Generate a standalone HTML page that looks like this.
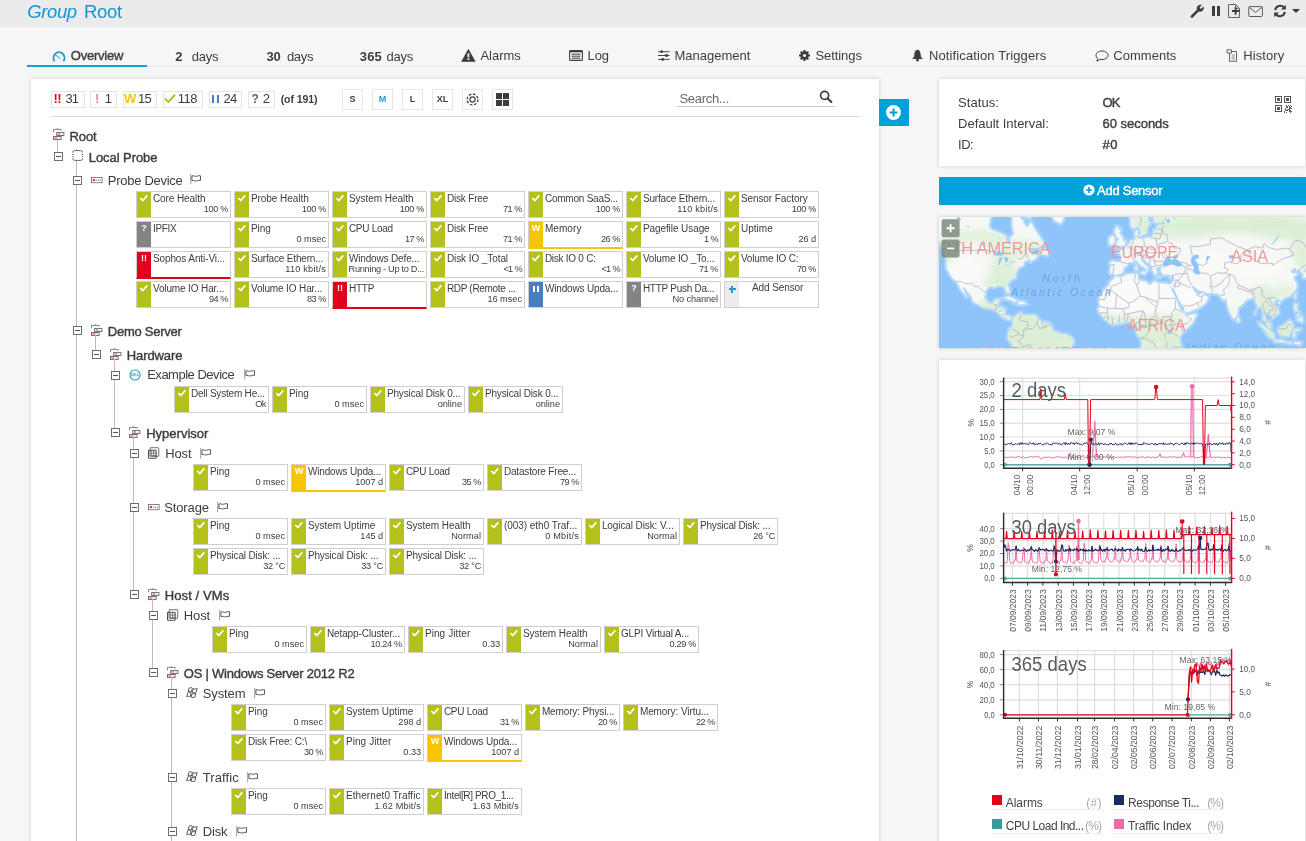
<!DOCTYPE html><html lang="en"><head><meta charset="utf-8"><title>Group Root</title><style>
*{box-sizing:border-box;margin:0;padding:0}
html,body{width:1306px;height:841px;overflow:hidden;background:#f6f6f6;font-family:"Liberation Sans",sans-serif;color:#3d3d3d}
.abs{position:absolute}
#top{position:absolute;left:0;top:0;width:1306px;height:27px;background:#ebebeb}
#title{position:absolute;left:27px;top:-1px;font-size:20px;line-height:24px;color:#1e9bd7;white-space:nowrap;letter-spacing:-0.2px}
#title i{font-style:italic}
.tab{position:absolute;top:47px;height:18px;font-size:13px;line-height:18px;white-space:nowrap;color:#3d3d3d}
.tab b{font-weight:bold}
#tabline{position:absolute;left:27px;top:66px;width:1279px;height:1px;background:#e6e6e6}
#tabsel{position:absolute;left:27px;top:65px;width:120px;height:2px;background:#1e9bd7}
#main{position:absolute;left:31px;top:79px;width:848px;height:780px;background:#fff;box-shadow:0 0 4px rgba(0,0,0,.18)}
.sb{position:absolute;top:91px;height:17px;border:1px solid #e4e4e4;background:#fff;font-size:13px;line-height:15px;white-space:nowrap;color:#3d3d3d}
.zb{position:absolute;top:89px;width:21px;height:21px;border:1px solid #e6e6e6;background:#fff;font-size:9px;font-weight:bold;line-height:19px;text-align:center;color:#3d3d3d}
.tl{position:absolute;font-size:13px;line-height:16px;white-space:nowrap;color:#3d3d3d}
.tl.g{font-weight:bold;letter-spacing:-0.35px}
.tg{position:absolute;width:9px;height:9px;border:1px solid #6e6e6e;background:#fff}
.tg:after{content:"";position:absolute;left:1px;top:3px;width:5px;height:1px;background:#555}
.vl{position:absolute;width:1px;background:#bdbdbd}
.s{position:absolute;width:95px;height:27px;border:1px solid #cfcfcf;background:#fff;overflow:hidden}
.s .c{position:absolute;left:0;top:0;width:14px;height:25px}
.s .n{position:absolute;left:15.9px;top:1px;font-size:10px;line-height:12px;letter-spacing:-0.1px;white-space:nowrap;color:#3d3d3d}
.s .v{position:absolute;right:2px;top:11px;font-size:9.2px;line-height:12px;white-space:nowrap;color:#3d3d3d}
.s.ok .c{background:#b4c11a}
.s.un .c{background:#838383}
.s.er .c{background:#e2001a}
.s.wa .c{background:#f5c500}
.s.pa .c{background:#447fc1}
.s.er{border-bottom:2px solid #e2001a;height:28px}
.s.wa{border-bottom:2px solid #f5c500;height:28px}
.s.ad .c{background:#ececec}
.s svg{position:absolute;left:0;top:0}
.s .m{position:absolute;left:0;top:2px;width:14px;text-align:center;font-size:9px;font-weight:bold;color:#fff;line-height:9px}
</style></head><body>
<div id="top"></div><div class="abs" style="white-space:nowrap;left:27.2px;top:-1.21px;font-size:18.5px;line-height:26px;letter-spacing:-0.364px;font-style:italic;color:#1196d5;">Group</div><div class="abs" style="white-space:nowrap;left:83.9px;top:-1.21px;font-size:18.5px;line-height:26px;letter-spacing:-0.245px;color:#1196d5;">Root</div>
<div id="tabline"></div><div id="tabsel"></div>
<svg class="abs" style="left:52px;top:49.5px" width="14" height="12" viewBox="0 0 14 12"><path d="M2.6 11.1 A5.5 5.5 0 1 1 11.4 11.1" fill="none" stroke="#1e9bd7" stroke-width="1.9"/><path d="M3.2 4.6 L8.4 8.6" stroke="#1e9bd7" stroke-width="1" fill="none"/></svg>
<div class="abs" style="white-space:nowrap;left:70.8px;top:46.80px;font-size:13px;line-height:18px;letter-spacing:-0.235px;-webkit-text-stroke:0.4px #3d3d3d;">Overview</div>
<div class="abs" style="white-space:nowrap;left:175.2px;top:47.80px;font-size:13px;line-height:18px;letter-spacing:-0.63px;font-weight:bold;">2</div>
<div class="abs" style="white-space:nowrap;left:191.8px;top:47.80px;font-size:13px;line-height:18px;letter-spacing:-0.29px;">days</div>
<div class="abs" style="white-space:nowrap;left:266.4px;top:47.80px;font-size:13px;line-height:18px;letter-spacing:-0.23px;font-weight:bold;">30</div>
<div class="abs" style="white-space:nowrap;left:286.9px;top:47.80px;font-size:13px;line-height:18px;letter-spacing:-0.29px;">days</div>
<div class="abs" style="white-space:nowrap;left:359.8px;top:47.80px;font-size:13px;line-height:18px;letter-spacing:0.103px;font-weight:bold;">365</div>
<div class="abs" style="white-space:nowrap;left:386.4px;top:47.80px;font-size:13px;line-height:18px;letter-spacing:-0.215px;">days</div>
<svg class="abs" style="left:461px;top:48.5px" width="15" height="13" viewBox="0 0 15 13"><path d="M7.4 0.3 L14.2 12.4 H0.6 Z" fill="#3d3d3d" stroke="#3d3d3d" stroke-width="0.6" stroke-linejoin="round"/><rect x="6.5" y="4.2" width="1.8" height="4.2" fill="#f6f6f6"/><rect x="6.5" y="9.3" width="1.8" height="1.7" fill="#f6f6f6"/></svg>
<div class="abs" style="white-space:nowrap;left:480.4px;top:46.80px;font-size:13px;line-height:18px;letter-spacing:-0.009px;">Alarms</div>
<svg class="abs" style="left:569px;top:50px" width="14" height="11" viewBox="0 0 14 11"><rect x="0.6" y="0.6" width="12.8" height="9.8" rx="1" fill="none" stroke="#3d3d3d" stroke-width="1.1"/><rect x="0.6" y="0.3" width="12.8" height="2" fill="#3d3d3d"/><path d="M2.6 4.2H11.4M2.6 6.2H11.4M2.6 8.2H11.4" stroke="#3d3d3d" stroke-width="1"/></svg>
<div class="abs" style="white-space:nowrap;left:587.6px;top:46.80px;font-size:13px;line-height:18px;letter-spacing:-0.164px;">Log</div>
<svg class="abs" style="left:657.6px;top:50px" width="12" height="11" viewBox="0 0 12 11"><path d="M0 1.7H11.6M0 5.5H11.6M0 9.4H11.6" stroke="#4a4a4a" stroke-width="1"/><rect x="2.6" y="0.3" width="2.2" height="2.8" rx="0.6" fill="#3d3d3d"/><rect x="7.4" y="4.1" width="2.2" height="2.8" rx="0.6" fill="#3d3d3d"/><rect x="3.6" y="8" width="2.2" height="2.8" rx="0.6" fill="#3d3d3d"/></svg>
<div class="abs" style="white-space:nowrap;left:674.4px;top:46.80px;font-size:13px;line-height:18px;letter-spacing:0.012px;">Management</div>
<svg class="abs" style="left:799px;top:50px" width="11" height="11" viewBox="0 0 12 12"><circle cx="6" cy="6" r="3.3" fill="none" stroke="#3d3d3d" stroke-width="2.6"/><g stroke="#3d3d3d" stroke-width="2.2"><path d="M6 0V12M0 6H12M1.8 1.8L10.2 10.2M10.2 1.8L1.8 10.2"/></g><circle cx="6" cy="6" r="1.7" fill="#f6f6f6"/></svg>
<div class="abs" style="white-space:nowrap;left:815.4px;top:46.80px;font-size:13px;line-height:18px;letter-spacing:-0.059px;">Settings</div>
<svg class="abs" style="left:911px;top:49px" width="13" height="13" viewBox="0 0 13 13"><path d="M6.5 0.8 C3.6 1.4 3.4 4 3.3 6.2 C3.2 8 2.2 9 1 10 H12 C10.8 9 9.8 8 9.7 6.2 C9.6 4 9.4 1.4 6.5 0.8Z" fill="#3d3d3d"/><circle cx="6.5" cy="11.2" r="1.4" fill="#3d3d3d"/></svg>
<div class="abs" style="white-space:nowrap;left:928.9px;top:46.80px;font-size:13px;line-height:18px;letter-spacing:0.124px;">Notification Triggers</div>
<svg class="abs" style="left:1095px;top:50px" width="14" height="12" viewBox="0 0 14 12"><path d="M7 1 C10.4 1 13 2.9 13 5.3 C13 7.7 10.4 9.6 7 9.6 C6.3 9.6 5.7 9.5 5.1 9.4 C4 10.4 2.8 10.9 1.6 11 C2.4 10.3 2.8 9.4 2.9 8.6 C1.7 7.8 1 6.6 1 5.3 C1 2.9 3.6 1 7 1Z" fill="none" stroke="#3d3d3d" stroke-width="1"/></svg>
<div class="abs" style="white-space:nowrap;left:1113.3px;top:46.80px;font-size:13px;line-height:18px;letter-spacing:0.019px;">Comments</div>
<svg class="abs" style="left:1226px;top:49px" width="12" height="13" viewBox="0 0 12 13"><path d="M3.5 2.5 H10.5 V12.3 H3.5 Z" fill="none" stroke="#555" stroke-width="0.9"/><path d="M1 0.8 H5.5 V4 H1 Z" fill="#f6f6f6" stroke="#555" stroke-width="0.9"/><path d="M5.5 6H9M5.5 8H9M5.5 10H9" stroke="#777" stroke-width="0.8"/></svg>
<div class="abs" style="white-space:nowrap;left:1243.3px;top:46.80px;font-size:13px;line-height:18px;letter-spacing:0.079px;">History</div>
<svg class="abs" style="left:1190px;top:4px" width="15" height="14" viewBox="0 0 15 14"><path d="M1 11.6 L6.9 5.7 A3.7 3.7 0 0 1 11.9 1.1 L9.5 3.5 L10.9 4.9 L13.4 2.5 A3.7 3.7 0 0 1 8.7 7.5 L2.9 13.4 A1.3 1.3 0 0 1 1 11.6Z" fill="#3d3d3d"/></svg>
<div class="abs" style="left:1212.1px;top:6px;width:2.5px;height:9.5px;background:#3d3d3d"></div><div class="abs" style="left:1217.1px;top:6px;width:2.6px;height:9.5px;background:#3d3d3d"></div>
<svg class="abs" style="left:1228px;top:4px" width="13" height="14" viewBox="0 0 13 14"><path d="M0.5 0.5 H7.6 L11.5 4.4 V13.5 H0.5 Z" fill="none" stroke="#555" stroke-width="0.9"/><path d="M7.6 0.5 V4.4 H11.5" fill="none" stroke="#555" stroke-width="0.8"/><path d="M7.6 3.2 V10.8 M4 7 H11.2" stroke="#3d3d3d" stroke-width="1.9"/></svg>
<svg class="abs" style="left:1248px;top:6px" width="15" height="11" viewBox="0 0 15 11"><rect x="0.8" y="0.6" width="13.6" height="9.9" rx="0.8" fill="none" stroke="#555" stroke-width="0.95"/><path d="M1 1.2 L7.6 6.4 L14.2 1.2" fill="none" stroke="#555" stroke-width="0.95"/></svg>
<svg class="abs" style="left:1273px;top:4px" width="14" height="14" viewBox="0 0 14 14"><path d="M2.2 6.2 A5 5 0 0 1 11 3.6" fill="none" stroke="#3d3d3d" stroke-width="2"/><path d="M12.8 0.8 V5.6 H8 Z" fill="#3d3d3d"/><path d="M11.8 7.8 A5 5 0 0 1 3 10.4" fill="none" stroke="#3d3d3d" stroke-width="2"/><path d="M1.2 13.2 V8.4 H6 Z" fill="#3d3d3d"/></svg>
<div class="abs" style="left:1292.3px;top:9px;width:0;height:0;border-left:4.2px solid transparent;border-right:4.2px solid transparent;border-top:4.4px solid #3d3d3d"></div>
<div id="main"></div>
<div class="sb" style="left:51px;width:34px"></div>
<div class="abs" style="white-space:nowrap;left:53.6px;top:89.70px;font-size:13px;line-height:18px;letter-spacing:-0.73px;font-weight:bold;color:#e2001a;">!!</div>
<div class="abs" style="white-space:nowrap;left:65.6px;top:89.70px;font-size:13px;line-height:18px;letter-spacing:-1.03px;">31</div>
<div class="sb" style="left:90px;width:27px"></div>
<div class="abs" style="white-space:nowrap;left:94.9px;top:89.70px;font-size:13px;line-height:18px;font-weight:bold;color:#f08a8a;">!</div>
<div class="abs" style="white-space:nowrap;left:104.8px;top:89.70px;font-size:13px;line-height:18px;">1</div>
<div class="sb" style="left:123px;width:34px"></div>
<div class="abs" style="white-space:nowrap;left:123.9px;top:89.70px;font-size:13px;line-height:18px;letter-spacing:-1.27px;font-weight:bold;color:#f5c500;">W</div>
<div class="abs" style="white-space:nowrap;left:137.9px;top:89.70px;font-size:13px;line-height:18px;letter-spacing:-0.73px;">15</div>
<div class="sb" style="left:163px;width:40px"></div>
<svg class="abs" style="left:164px;top:93px" width="12" height="11" viewBox="0 0 12 11"><path d="M1 5.6 L4.3 9 L11 1.6" fill="none" stroke="#a9b915" stroke-width="1.8"/></svg>
<div class="abs" style="white-space:nowrap;left:177.8px;top:89.70px;font-size:13px;line-height:18px;letter-spacing:-0.576px;">118</div>
<div class="sb" style="left:209px;width:33px"></div>
<div class="abs" style="left:212px;top:95px;width:2px;height:8px;background:#447fc1"></div><div class="abs" style="left:217px;top:95px;width:2px;height:8px;background:#447fc1"></div>
<div class="abs" style="white-space:nowrap;left:223.5px;top:89.70px;font-size:13px;line-height:18px;letter-spacing:-0.73px;">24</div>
<div class="sb" style="left:248px;width:27px"></div>
<div class="abs" style="white-space:nowrap;left:251.4px;top:90.54px;font-size:12px;line-height:17px;font-weight:bold;color:#666;">?</div>
<div class="abs" style="white-space:nowrap;left:262.7px;top:89.70px;font-size:13px;line-height:18px;">2</div>
<div class="abs" style="white-space:nowrap;left:280.7px;top:91.56px;font-size:10.5px;line-height:15px;letter-spacing:-0.067px;font-weight:bold;font-weight:bold;">(of 191)</div>
<div class="zb" style="left:342px;color:#3d3d3d">S</div>
<div class="zb" style="left:372px;color:#1e9bd7">M</div>
<div class="zb" style="left:402px;color:#3d3d3d">L</div>
<div class="zb" style="left:432px;color:#3d3d3d">XL</div>
<div class="zb" style="left:462px"></div><div class="zb" style="left:492px"></div>
<svg class="abs" style="left:466px;top:93px" width="13" height="13" viewBox="0 0 13 13"><circle cx="6.5" cy="6.5" r="5.4" fill="none" stroke="#3d3d3d" stroke-width="1.3" stroke-dasharray="2.6 1.6"/><circle cx="6.5" cy="6.5" r="2.6" fill="none" stroke="#3d3d3d" stroke-width="1.1"/></svg>
<div class="abs" style="left:496px;top:93px;width:6px;height:6px;background:#3d3d3d"></div><div class="abs" style="left:503px;top:93px;width:6px;height:6px;background:#3d3d3d"></div><div class="abs" style="left:496px;top:100px;width:6px;height:6px;background:#3d3d3d"></div><div class="abs" style="left:503px;top:100px;width:6px;height:6px;background:#3d3d3d"></div>
<div class="abs" style="white-space:nowrap;left:679.4px;top:89.70px;font-size:13px;line-height:18px;letter-spacing:-0.27px;color:#6a6a6a;">Search...</div>
<div class="abs" style="left:677px;top:106px;width:158px;height:1px;background:#c9c9c9"></div>
<svg class="abs" style="left:819px;top:89.5px" width="14" height="13" viewBox="0 0 14 13"><circle cx="5.6" cy="5.4" r="4" fill="none" stroke="#3d3d3d" stroke-width="1.7"/><path d="M8.6 8.4 L12.4 12" stroke="#3d3d3d" stroke-width="2" stroke-linecap="round"/></svg>
<div class="abs" style="left:51px;top:116px;width:808px;height:1px;background:#d9d9d9"></div>
<div class="abs" style="left:879px;top:99px;width:30px;height:27px;background:#00a0d8"></div>
<svg class="abs" style="left:885px;top:104px" width="17" height="17" viewBox="0 0 17 17"><circle cx="8.5" cy="8.5" r="7.5" fill="#fff"/><path d="M8.5 4.6V12.4M4.6 8.5H12.4" stroke="#00a0d8" stroke-width="2"/></svg>
<svg class="abs" style="left:53px;top:128px" width="12" height="13" viewBox="0 0 12 13"><path d="M0.5 4.2 V1.4 H8.2 V2.7 M4.6 0.2 V1.4" fill="none" stroke="#777" stroke-width="0.9"/><rect x="3.7" y="4.4" width="7.2" height="3.1" fill="#fff" stroke="#666" stroke-width="0.9"/><rect x="4.8" y="5.2" width="2.2" height="1.4" fill="#f05a9a"/><rect x="8.2" y="5.6" width="1.4" height="0.8" fill="#bbb"/><rect x="0.5" y="8.5" width="7.6" height="3.1" fill="#fff" stroke="#666" stroke-width="0.9"/><rect x="1.4" y="9.3" width="3" height="1.5" fill="#f06aa6"/><rect x="5.4" y="9.7" width="1.6" height="0.8" fill="#bbb"/></svg>
<svg class="abs" style="left:72px;top:149px" width="12" height="13" viewBox="0 0 12 13"><path d="M0.9 3.8 V3.3 Q0.9 1.6 2.6 1.6 H8.8 Q10.5 1.6 10.5 3.3 V3.8 M0.9 9.2 V9.7 Q0.9 11.4 2.6 11.4 H8.8 Q10.5 11.4 10.5 9.7 V9.2" fill="none" stroke="#666" stroke-width="0.95"/><path d="M0.9 5 V6 M0.9 7.2 V8.2 M10.5 5 V6 M10.5 7.2 V8.2" stroke="#555" stroke-width="1.3"/><path d="M4.5 0.3V1.6" stroke="#777" stroke-width="0.8"/></svg>
<svg class="abs" style="left:91px;top:176.5px" width="12" height="7" viewBox="0 0 12 7"><rect x="0.5" y="0.5" width="10.6" height="5.2" fill="#fff" stroke="#777" stroke-width="0.9"/><rect x="1.8" y="2.1" width="2.3" height="2" fill="#ee1c78"/><rect x="5.2" y="2.6" width="1.1" height="1.3" fill="#888"/><rect x="7" y="2.6" width="1.1" height="1.3" fill="#888"/><rect x="8.8" y="2.6" width="1.1" height="1.3" fill="#888"/></svg>
<svg class="abs" style="left:190px;top:173.5px" width="12" height="11" viewBox="0 0 12 11"><path d="M0.7 0 V10.4" stroke="#9a9ab0" stroke-width="1"/><path d="M1.9 1.9 C3.6 1.2 5 2.9 6.8 2.2 C8.2 1.7 9.2 1.5 10.5 1.8 V6.4 C9.2 6.1 8.2 6.3 6.8 6.8 C5 7.5 3.6 5.8 1.9 6.5 Z" fill="none" stroke="#505050" stroke-width="0.95"/></svg>
<svg class="abs" style="left:91px;top:323.5px" width="12" height="13" viewBox="0 0 12 13"><path d="M0.5 4.2 V1.4 H8.2 V2.7 M4.6 0.2 V1.4" fill="none" stroke="#777" stroke-width="0.9"/><rect x="3.7" y="4.4" width="7.2" height="3.1" fill="#fff" stroke="#666" stroke-width="0.9"/><rect x="4.8" y="5.2" width="2.2" height="1.4" fill="#f05a9a"/><rect x="8.2" y="5.6" width="1.4" height="0.8" fill="#bbb"/><rect x="0.5" y="8.5" width="7.6" height="3.1" fill="#fff" stroke="#666" stroke-width="0.9"/><rect x="1.4" y="9.3" width="3" height="1.5" fill="#f06aa6"/><rect x="5.4" y="9.7" width="1.6" height="0.8" fill="#bbb"/></svg>
<svg class="abs" style="left:110px;top:347.5px" width="12" height="13" viewBox="0 0 12 13"><path d="M0.5 4.2 V1.4 H8.2 V2.7 M4.6 0.2 V1.4" fill="none" stroke="#777" stroke-width="0.9"/><rect x="3.7" y="4.4" width="7.2" height="3.1" fill="#fff" stroke="#666" stroke-width="0.9"/><rect x="4.8" y="5.2" width="2.2" height="1.4" fill="#f05a9a"/><rect x="8.2" y="5.6" width="1.4" height="0.8" fill="#bbb"/><rect x="0.5" y="8.5" width="7.6" height="3.1" fill="#fff" stroke="#666" stroke-width="0.9"/><rect x="1.4" y="9.3" width="3" height="1.5" fill="#f06aa6"/><rect x="5.4" y="9.7" width="1.6" height="0.8" fill="#bbb"/></svg>
<svg class="abs" style="left:128.5px;top:368.5px" width="12" height="12" viewBox="0 0 12 12"><circle cx="6" cy="6" r="5" fill="#fff" stroke="#1e9bd7" stroke-width="1.1"/><text x="6" y="7.3" font-family="Liberation Sans, sans-serif" font-size="3.6" font-weight="bold" fill="#1e9bd7" text-anchor="middle" textLength="7.4" lengthAdjust="spacingAndGlyphs">DELL</text></svg>
<svg class="abs" style="left:243.5px;top:369px" width="12" height="11" viewBox="0 0 12 11"><path d="M0.7 0 V10.4" stroke="#9a9ab0" stroke-width="1"/><path d="M1.9 1.9 C3.6 1.2 5 2.9 6.8 2.2 C8.2 1.7 9.2 1.5 10.5 1.8 V6.4 C9.2 6.1 8.2 6.3 6.8 6.8 C5 7.5 3.6 5.8 1.9 6.5 Z" fill="none" stroke="#505050" stroke-width="0.95"/></svg>
<svg class="abs" style="left:129px;top:425.5px" width="12" height="13" viewBox="0 0 12 13"><path d="M0.5 4.2 V1.4 H8.2 V2.7 M4.6 0.2 V1.4" fill="none" stroke="#777" stroke-width="0.9"/><rect x="3.7" y="4.4" width="7.2" height="3.1" fill="#fff" stroke="#666" stroke-width="0.9"/><rect x="4.8" y="5.2" width="2.2" height="1.4" fill="#f05a9a"/><rect x="8.2" y="5.6" width="1.4" height="0.8" fill="#bbb"/><rect x="0.5" y="8.5" width="7.6" height="3.1" fill="#fff" stroke="#666" stroke-width="0.9"/><rect x="1.4" y="9.3" width="3" height="1.5" fill="#f06aa6"/><rect x="5.4" y="9.7" width="1.6" height="0.8" fill="#bbb"/></svg>
<svg class="abs" style="left:148px;top:446.8px" width="12" height="12" viewBox="0 0 12 12"><rect x="2.1" y="0.7" width="8.6" height="8.6" rx="1" fill="none" stroke="#8e8e8e" stroke-width="1.3"/><rect x="0.55" y="3.3" width="7.6" height="7.9" rx="0.8" fill="none" stroke="#4a4a4a" stroke-width="1.1"/><path d="M3.2 3.3 V8.6 H8.15 M5.6 3.3 V8.6 M3.2 6 H8.15" fill="none" stroke="#5a5a5a" stroke-width="0.8"/></svg>
<svg class="abs" style="left:200px;top:447.5px" width="12" height="11" viewBox="0 0 12 11"><path d="M0.7 0 V10.4" stroke="#9a9ab0" stroke-width="1"/><path d="M1.9 1.9 C3.6 1.2 5 2.9 6.8 2.2 C8.2 1.7 9.2 1.5 10.5 1.8 V6.4 C9.2 6.1 8.2 6.3 6.8 6.8 C5 7.5 3.6 5.8 1.9 6.5 Z" fill="none" stroke="#505050" stroke-width="0.95"/></svg>
<svg class="abs" style="left:148px;top:503.5px" width="12" height="7" viewBox="0 0 12 7"><rect x="0.5" y="0.5" width="10.6" height="5.2" fill="#fff" stroke="#777" stroke-width="0.9"/><rect x="1.8" y="2.1" width="2.3" height="2" fill="#ee1c78"/><rect x="5.2" y="2.6" width="1.1" height="1.3" fill="#888"/><rect x="7" y="2.6" width="1.1" height="1.3" fill="#888"/><rect x="8.8" y="2.6" width="1.1" height="1.3" fill="#888"/></svg>
<svg class="abs" style="left:217px;top:501.5px" width="12" height="11" viewBox="0 0 12 11"><path d="M0.7 0 V10.4" stroke="#9a9ab0" stroke-width="1"/><path d="M1.9 1.9 C3.6 1.2 5 2.9 6.8 2.2 C8.2 1.7 9.2 1.5 10.5 1.8 V6.4 C9.2 6.1 8.2 6.3 6.8 6.8 C5 7.5 3.6 5.8 1.9 6.5 Z" fill="none" stroke="#505050" stroke-width="0.95"/></svg>
<svg class="abs" style="left:148px;top:587.5px" width="12" height="13" viewBox="0 0 12 13"><path d="M0.5 4.2 V1.4 H8.2 V2.7 M4.6 0.2 V1.4" fill="none" stroke="#777" stroke-width="0.9"/><rect x="3.7" y="4.4" width="7.2" height="3.1" fill="#fff" stroke="#666" stroke-width="0.9"/><rect x="4.8" y="5.2" width="2.2" height="1.4" fill="#f05a9a"/><rect x="8.2" y="5.6" width="1.4" height="0.8" fill="#bbb"/><rect x="0.5" y="8.5" width="7.6" height="3.1" fill="#fff" stroke="#666" stroke-width="0.9"/><rect x="1.4" y="9.3" width="3" height="1.5" fill="#f06aa6"/><rect x="5.4" y="9.7" width="1.6" height="0.8" fill="#bbb"/></svg>
<svg class="abs" style="left:167px;top:608.8px" width="12" height="12" viewBox="0 0 12 12"><rect x="2.1" y="0.7" width="8.6" height="8.6" rx="1" fill="none" stroke="#8e8e8e" stroke-width="1.3"/><rect x="0.55" y="3.3" width="7.6" height="7.9" rx="0.8" fill="none" stroke="#4a4a4a" stroke-width="1.1"/><path d="M3.2 3.3 V8.6 H8.15 M5.6 3.3 V8.6 M3.2 6 H8.15" fill="none" stroke="#5a5a5a" stroke-width="0.8"/></svg>
<svg class="abs" style="left:219px;top:609.5px" width="12" height="11" viewBox="0 0 12 11"><path d="M0.7 0 V10.4" stroke="#9a9ab0" stroke-width="1"/><path d="M1.9 1.9 C3.6 1.2 5 2.9 6.8 2.2 C8.2 1.7 9.2 1.5 10.5 1.8 V6.4 C9.2 6.1 8.2 6.3 6.8 6.8 C5 7.5 3.6 5.8 1.9 6.5 Z" fill="none" stroke="#505050" stroke-width="0.95"/></svg>
<svg class="abs" style="left:167px;top:665.5px" width="12" height="13" viewBox="0 0 12 13"><path d="M0.5 4.2 V1.4 H8.2 V2.7 M4.6 0.2 V1.4" fill="none" stroke="#777" stroke-width="0.9"/><rect x="3.7" y="4.4" width="7.2" height="3.1" fill="#fff" stroke="#666" stroke-width="0.9"/><rect x="4.8" y="5.2" width="2.2" height="1.4" fill="#f05a9a"/><rect x="8.2" y="5.6" width="1.4" height="0.8" fill="#bbb"/><rect x="0.5" y="8.5" width="7.6" height="3.1" fill="#fff" stroke="#666" stroke-width="0.9"/><rect x="1.4" y="9.3" width="3" height="1.5" fill="#f06aa6"/><rect x="5.4" y="9.7" width="1.6" height="0.8" fill="#bbb"/></svg>
<svg class="abs" style="left:185.5px;top:686.5px" width="13" height="12" viewBox="0 0 13 12"><g fill="none" stroke="#5a5a5a" stroke-width="1"><path d="M3 1.2 C4.2 0.4 5.4 0.6 6.4 1.2 L5.4 5 C4.4 4.4 3.2 4.2 2 5 Z"/><path d="M7.4 1.6 C8.6 2.2 9.8 2.2 11.2 1.4 L10.2 5.2 C8.8 6 7.6 5.9 6.4 5.3 Z"/><path d="M1.7 6 C2.9 5.2 4.1 5.4 5.1 6 L4.1 9.8 C3.1 9.2 1.9 9 0.7 9.8 Z"/><path d="M6.1 6.4 C7.3 7 8.5 7 9.9 6.2 L8.9 10 C7.5 10.8 6.3 10.7 5.1 10.1 Z"/></g></svg>
<svg class="abs" style="left:253.5px;top:687.5px" width="12" height="11" viewBox="0 0 12 11"><path d="M0.7 0 V10.4" stroke="#9a9ab0" stroke-width="1"/><path d="M1.9 1.9 C3.6 1.2 5 2.9 6.8 2.2 C8.2 1.7 9.2 1.5 10.5 1.8 V6.4 C9.2 6.1 8.2 6.3 6.8 6.8 C5 7.5 3.6 5.8 1.9 6.5 Z" fill="none" stroke="#505050" stroke-width="0.95"/></svg>
<svg class="abs" style="left:185.5px;top:770.5px" width="13" height="12" viewBox="0 0 13 12"><g fill="none" stroke="#5a5a5a" stroke-width="1"><path d="M3 1.2 C4.2 0.4 5.4 0.6 6.4 1.2 L5.4 5 C4.4 4.4 3.2 4.2 2 5 Z"/><path d="M7.4 1.6 C8.6 2.2 9.8 2.2 11.2 1.4 L10.2 5.2 C8.8 6 7.6 5.9 6.4 5.3 Z"/><path d="M1.7 6 C2.9 5.2 4.1 5.4 5.1 6 L4.1 9.8 C3.1 9.2 1.9 9 0.7 9.8 Z"/><path d="M6.1 6.4 C7.3 7 8.5 7 9.9 6.2 L8.9 10 C7.5 10.8 6.3 10.7 5.1 10.1 Z"/></g></svg>
<svg class="abs" style="left:247px;top:771.5px" width="12" height="11" viewBox="0 0 12 11"><path d="M0.7 0 V10.4" stroke="#9a9ab0" stroke-width="1"/><path d="M1.9 1.9 C3.6 1.2 5 2.9 6.8 2.2 C8.2 1.7 9.2 1.5 10.5 1.8 V6.4 C9.2 6.1 8.2 6.3 6.8 6.8 C5 7.5 3.6 5.8 1.9 6.5 Z" fill="none" stroke="#505050" stroke-width="0.95"/></svg>
<svg class="abs" style="left:185.5px;top:824.5px" width="13" height="12" viewBox="0 0 13 12"><g fill="none" stroke="#5a5a5a" stroke-width="1"><path d="M3 1.2 C4.2 0.4 5.4 0.6 6.4 1.2 L5.4 5 C4.4 4.4 3.2 4.2 2 5 Z"/><path d="M7.4 1.6 C8.6 2.2 9.8 2.2 11.2 1.4 L10.2 5.2 C8.8 6 7.6 5.9 6.4 5.3 Z"/><path d="M1.7 6 C2.9 5.2 4.1 5.4 5.1 6 L4.1 9.8 C3.1 9.2 1.9 9 0.7 9.8 Z"/><path d="M6.1 6.4 C7.3 7 8.5 7 9.9 6.2 L8.9 10 C7.5 10.8 6.3 10.7 5.1 10.1 Z"/></g></svg>
<svg class="abs" style="left:235.5px;top:825.5px" width="12" height="11" viewBox="0 0 12 11"><path d="M0.7 0 V10.4" stroke="#9a9ab0" stroke-width="1"/><path d="M1.9 1.9 C3.6 1.2 5 2.9 6.8 2.2 C8.2 1.7 9.2 1.5 10.5 1.8 V6.4 C9.2 6.1 8.2 6.3 6.8 6.8 C5 7.5 3.6 5.8 1.9 6.5 Z" fill="none" stroke="#505050" stroke-width="0.95"/></svg>
<div class="vl" style="left:57px;top:140px;height:13px"></div>
<div class="vl" style="left:76px;top:161px;height:739px"></div>
<div class="vl" style="left:95px;top:335px;height:16px"></div>
<div class="vl" style="left:114px;top:359px;height:70px"></div>
<div class="vl" style="left:133px;top:437px;height:154px"></div>
<div class="vl" style="left:152px;top:599px;height:70px"></div>
<div class="vl" style="left:171px;top:677px;height:223px"></div>
<div class="abs" style="white-space:nowrap;left:69.6px;top:128.20px;font-size:13px;line-height:18px;letter-spacing:-0.165px;-webkit-text-stroke:0.4px #3d3d3d;">Root</div>
<div class="tg" style="left:54px;top:152px"></div>
<div class="abs" style="white-space:nowrap;left:88.8px;top:149.20px;font-size:13px;line-height:18px;letter-spacing:-0.071px;-webkit-text-stroke:0.4px #3d3d3d;">Local Probe</div>
<div class="tg" style="left:73px;top:176px"></div>
<div class="abs" style="white-space:nowrap;left:107.8px;top:172.20px;font-size:13px;line-height:18px;letter-spacing:-0.279px;">Probe Device</div>
<div class="s ok" style="left:136px;top:191px"><div class="c"></div><svg width="14" height="12" viewBox="0 0 14 12"><path d="M3.3 6 L5.8 8.6 L10.3 3.4" fill="none" stroke="#fff" stroke-width="1.7"/></svg><div class="n" style="letter-spacing:-0.08px">Core Health</div><div class="v" style="letter-spacing:-0.38px">100 %</div></div>
<div class="s ok" style="left:234px;top:191px"><div class="c"></div><svg width="14" height="12" viewBox="0 0 14 12"><path d="M3.3 6 L5.8 8.6 L10.3 3.4" fill="none" stroke="#fff" stroke-width="1.7"/></svg><div class="n" style="letter-spacing:-0.04px">Probe Health</div><div class="v" style="letter-spacing:-0.38px">100 %</div></div>
<div class="s ok" style="left:332px;top:191px"><div class="c"></div><svg width="14" height="12" viewBox="0 0 14 12"><path d="M3.3 6 L5.8 8.6 L10.3 3.4" fill="none" stroke="#fff" stroke-width="1.7"/></svg><div class="n" style="letter-spacing:-0.03px">System Health</div><div class="v" style="letter-spacing:-0.38px">100 %</div></div>
<div class="s ok" style="left:430px;top:191px"><div class="c"></div><svg width="14" height="12" viewBox="0 0 14 12"><path d="M3.3 6 L5.8 8.6 L10.3 3.4" fill="none" stroke="#fff" stroke-width="1.7"/></svg><div class="n" style="letter-spacing:-0.18px">Disk Free</div><div class="v" style="letter-spacing:-0.47px">71 %</div></div>
<div class="s ok" style="left:528px;top:191px"><div class="c"></div><svg width="14" height="12" viewBox="0 0 14 12"><path d="M3.3 6 L5.8 8.6 L10.3 3.4" fill="none" stroke="#fff" stroke-width="1.7"/></svg><div class="n" style="letter-spacing:-0.23px">Common SaaS...</div><div class="v" style="letter-spacing:-0.38px">100 %</div></div>
<div class="s ok" style="left:626px;top:191px"><div class="c"></div><svg width="14" height="12" viewBox="0 0 14 12"><path d="M3.3 6 L5.8 8.6 L10.3 3.4" fill="none" stroke="#fff" stroke-width="1.7"/></svg><div class="n" style="letter-spacing:-0.17px">Surface Ethern...</div><div class="v" style="letter-spacing:0.21px">110 kbit/s</div></div>
<div class="s ok" style="left:724px;top:191px"><div class="c"></div><svg width="14" height="12" viewBox="0 0 14 12"><path d="M3.3 6 L5.8 8.6 L10.3 3.4" fill="none" stroke="#fff" stroke-width="1.7"/></svg><div class="n" style="letter-spacing:-0.08px">Sensor Factory</div><div class="v" style="letter-spacing:-0.38px">100 %</div></div>
<div class="s un" style="left:136px;top:221px"><div class="c"></div><div class="m">?</div><div class="n" style="letter-spacing:-0.29px">IPFIX</div><div class="v" style="letter-spacing:0px"></div></div>
<div class="s ok" style="left:234px;top:221px"><div class="c"></div><svg width="14" height="12" viewBox="0 0 14 12"><path d="M3.3 6 L5.8 8.6 L10.3 3.4" fill="none" stroke="#fff" stroke-width="1.7"/></svg><div class="n" style="letter-spacing:-0.04px">Ping</div><div class="v" style="letter-spacing:-0.02px">0 msec</div></div>
<div class="s ok" style="left:332px;top:221px"><div class="c"></div><svg width="14" height="12" viewBox="0 0 14 12"><path d="M3.3 6 L5.8 8.6 L10.3 3.4" fill="none" stroke="#fff" stroke-width="1.7"/></svg><div class="n" style="letter-spacing:-0.28px">CPU Load</div><div class="v" style="letter-spacing:-0.47px">17 %</div></div>
<div class="s ok" style="left:430px;top:221px"><div class="c"></div><svg width="14" height="12" viewBox="0 0 14 12"><path d="M3.3 6 L5.8 8.6 L10.3 3.4" fill="none" stroke="#fff" stroke-width="1.7"/></svg><div class="n" style="letter-spacing:-0.18px">Disk Free</div><div class="v" style="letter-spacing:-0.47px">71 %</div></div>
<div class="s wa" style="left:528px;top:221px"><div class="c"></div><div class="m">W</div><div class="n" style="letter-spacing:0.08px">Memory</div><div class="v" style="letter-spacing:-0.47px">26 %</div></div>
<div class="s ok" style="left:626px;top:221px"><div class="c"></div><svg width="14" height="12" viewBox="0 0 14 12"><path d="M3.3 6 L5.8 8.6 L10.3 3.4" fill="none" stroke="#fff" stroke-width="1.7"/></svg><div class="n" style="letter-spacing:-0.08px">Pagefile Usage</div><div class="v" style="letter-spacing:-0.62px">1 %</div></div>
<div class="s ok" style="left:724px;top:221px"><div class="c"></div><svg width="14" height="12" viewBox="0 0 14 12"><path d="M3.3 6 L5.8 8.6 L10.3 3.4" fill="none" stroke="#fff" stroke-width="1.7"/></svg><div class="n" style="letter-spacing:0.03px">Uptime</div><div class="v" style="letter-spacing:-0.09px">26 d</div></div>
<div class="s er" style="left:136px;top:251px"><div class="c"></div><div class="m">!!</div><div class="n" style="letter-spacing:-0.1px">Sophos Anti-Vi...</div><div class="v" style="letter-spacing:0px"></div></div>
<div class="s ok" style="left:234px;top:251px"><div class="c"></div><svg width="14" height="12" viewBox="0 0 14 12"><path d="M3.3 6 L5.8 8.6 L10.3 3.4" fill="none" stroke="#fff" stroke-width="1.7"/></svg><div class="n" style="letter-spacing:-0.17px">Surface Ethern...</div><div class="v" style="letter-spacing:0.21px">110 kbit/s</div></div>
<div class="s ok" style="left:332px;top:251px"><div class="c"></div><svg width="14" height="12" viewBox="0 0 14 12"><path d="M3.3 6 L5.8 8.6 L10.3 3.4" fill="none" stroke="#fff" stroke-width="1.7"/></svg><div class="n" style="letter-spacing:-0.15px">Windows Defe...</div><div class="v" style="letter-spacing:-0.29px">Running - Up to D...</div></div>
<div class="s ok" style="left:430px;top:251px"><div class="c"></div><svg width="14" height="12" viewBox="0 0 14 12"><path d="M3.3 6 L5.8 8.6 L10.3 3.4" fill="none" stroke="#fff" stroke-width="1.7"/></svg><div class="n" style="letter-spacing:-0.08px">Disk IO _Total</div><div class="v" style="letter-spacing:-0.65px">&lt;1 %</div></div>
<div class="s ok" style="left:528px;top:251px"><div class="c"></div><svg width="14" height="12" viewBox="0 0 14 12"><path d="M3.3 6 L5.8 8.6 L10.3 3.4" fill="none" stroke="#fff" stroke-width="1.7"/></svg><div class="n" style="letter-spacing:-0.26px">Disk IO 0 C:</div><div class="v" style="letter-spacing:-0.65px">&lt;1 %</div></div>
<div class="s ok" style="left:626px;top:251px"><div class="c"></div><svg width="14" height="12" viewBox="0 0 14 12"><path d="M3.3 6 L5.8 8.6 L10.3 3.4" fill="none" stroke="#fff" stroke-width="1.7"/></svg><div class="n" style="letter-spacing:-0.15px">Volume IO _To...</div><div class="v" style="letter-spacing:-0.47px">71 %</div></div>
<div class="s ok" style="left:724px;top:251px"><div class="c"></div><svg width="14" height="12" viewBox="0 0 14 12"><path d="M3.3 6 L5.8 8.6 L10.3 3.4" fill="none" stroke="#fff" stroke-width="1.7"/></svg><div class="n" style="letter-spacing:-0.16px">Volume IO C:</div><div class="v" style="letter-spacing:-0.47px">70 %</div></div>
<div class="s ok" style="left:136px;top:281px"><div class="c"></div><svg width="14" height="12" viewBox="0 0 14 12"><path d="M3.3 6 L5.8 8.6 L10.3 3.4" fill="none" stroke="#fff" stroke-width="1.7"/></svg><div class="n" style="letter-spacing:-0.13px">Volume IO Har...</div><div class="v" style="letter-spacing:-0.47px">94 %</div></div>
<div class="s ok" style="left:234px;top:281px"><div class="c"></div><svg width="14" height="12" viewBox="0 0 14 12"><path d="M3.3 6 L5.8 8.6 L10.3 3.4" fill="none" stroke="#fff" stroke-width="1.7"/></svg><div class="n" style="letter-spacing:-0.13px">Volume IO Har...</div><div class="v" style="letter-spacing:-0.47px">83 %</div></div>
<div class="s er" style="left:332px;top:281px"><div class="c"></div><div class="m">!!</div><div class="n" style="letter-spacing:-0.19px">HTTP</div><div class="v" style="letter-spacing:0px"></div></div>
<div class="s ok" style="left:430px;top:281px"><div class="c"></div><svg width="14" height="12" viewBox="0 0 14 12"><path d="M3.3 6 L5.8 8.6 L10.3 3.4" fill="none" stroke="#fff" stroke-width="1.7"/></svg><div class="n" style="letter-spacing:-0.31px">RDP (Remote ...</div><div class="v" style="letter-spacing:-0.02px">16 msec</div></div>
<div class="s pa" style="left:528px;top:281px"><div class="c"></div><div class="abs" style="left:4px;top:3.5px;width:2px;height:6px;background:#fff"></div><div class="abs" style="left:8px;top:3.5px;width:2px;height:6px;background:#fff"></div><div class="n" style="letter-spacing:-0.16px">Windows Upda...</div><div class="v" style="letter-spacing:0px"></div></div>
<div class="s un" style="left:626px;top:281px"><div class="c"></div><div class="m">?</div><div class="n" style="letter-spacing:-0.26px">HTTP Push Da...</div><div class="v" style="letter-spacing:-0.09px">No channel</div></div>
<div class="s ad" style="left:724px;top:281px"><div class="c"></div><div class="abs" style="left:3.5px;top:6.2px;width:7px;height:1.8px;background:#1e9bd7"></div><div class="abs" style="left:6.1px;top:3.6px;width:1.8px;height:7px;background:#1e9bd7"></div><div class="n" style="left:27px;top:0.4px">Add Sensor</div></div>
<div class="tg" style="left:73px;top:326px"></div>
<div class="abs" style="white-space:nowrap;left:107.8px;top:323.20px;font-size:13px;line-height:18px;letter-spacing:-0.253px;-webkit-text-stroke:0.4px #3d3d3d;">Demo Server</div>
<div class="tg" style="left:92px;top:350px"></div>
<div class="abs" style="white-space:nowrap;left:126.8px;top:347.20px;font-size:13px;line-height:18px;letter-spacing:-0.107px;-webkit-text-stroke:0.4px #3d3d3d;">Hardware</div>
<div class="tg" style="left:111px;top:371px"></div>
<div class="abs" style="white-space:nowrap;left:147.2px;top:366.10px;font-size:13px;line-height:18px;letter-spacing:-0.488px;">Example Device</div>
<div class="s ok" style="left:174px;top:386px"><div class="c"></div><svg width="14" height="12" viewBox="0 0 14 12"><path d="M3.3 6 L5.8 8.6 L10.3 3.4" fill="none" stroke="#fff" stroke-width="1.7"/></svg><div class="n" style="letter-spacing:-0.2px">Dell System He...</div><div class="v" style="letter-spacing:-0.46px">Ok</div></div>
<div class="s ok" style="left:272px;top:386px"><div class="c"></div><svg width="14" height="12" viewBox="0 0 14 12"><path d="M3.3 6 L5.8 8.6 L10.3 3.4" fill="none" stroke="#fff" stroke-width="1.7"/></svg><div class="n" style="letter-spacing:-0.04px">Ping</div><div class="v" style="letter-spacing:-0.02px">0 msec</div></div>
<div class="s ok" style="left:370px;top:386px"><div class="c"></div><svg width="14" height="12" viewBox="0 0 14 12"><path d="M3.3 6 L5.8 8.6 L10.3 3.4" fill="none" stroke="#fff" stroke-width="1.7"/></svg><div class="n" style="letter-spacing:-0.14px">Physical Disk 0...</div><div class="v" style="letter-spacing:-0.03px">online</div></div>
<div class="s ok" style="left:468px;top:386px"><div class="c"></div><svg width="14" height="12" viewBox="0 0 14 12"><path d="M3.3 6 L5.8 8.6 L10.3 3.4" fill="none" stroke="#fff" stroke-width="1.7"/></svg><div class="n" style="letter-spacing:-0.14px">Physical Disk 0...</div><div class="v" style="letter-spacing:-0.03px">online</div></div>
<div class="tg" style="left:111px;top:428px"></div>
<div class="abs" style="white-space:nowrap;left:146.2px;top:425.20px;font-size:13px;line-height:18px;letter-spacing:0.007px;-webkit-text-stroke:0.4px #3d3d3d;">Hypervisor</div>
<div class="tg" style="left:130px;top:449px"></div>
<div class="abs" style="white-space:nowrap;left:165.2px;top:445.20px;font-size:13px;line-height:18px;letter-spacing:-0.108px;">Host</div>
<div class="s ok" style="left:193px;top:464px"><div class="c"></div><svg width="14" height="12" viewBox="0 0 14 12"><path d="M3.3 6 L5.8 8.6 L10.3 3.4" fill="none" stroke="#fff" stroke-width="1.7"/></svg><div class="n" style="letter-spacing:-0.04px">Ping</div><div class="v" style="letter-spacing:-0.02px">0 msec</div></div>
<div class="s wa" style="left:291px;top:464px"><div class="c"></div><div class="m">W</div><div class="n" style="letter-spacing:-0.16px">Windows Upda...</div><div class="v" style="letter-spacing:-0.06px">1007 d</div></div>
<div class="s ok" style="left:389px;top:464px"><div class="c"></div><svg width="14" height="12" viewBox="0 0 14 12"><path d="M3.3 6 L5.8 8.6 L10.3 3.4" fill="none" stroke="#fff" stroke-width="1.7"/></svg><div class="n" style="letter-spacing:-0.28px">CPU Load</div><div class="v" style="letter-spacing:-0.47px">35 %</div></div>
<div class="s ok" style="left:487px;top:464px"><div class="c"></div><svg width="14" height="12" viewBox="0 0 14 12"><path d="M3.3 6 L5.8 8.6 L10.3 3.4" fill="none" stroke="#fff" stroke-width="1.7"/></svg><div class="n" style="letter-spacing:-0.17px">Datastore Free...</div><div class="v" style="letter-spacing:-0.47px">79 %</div></div>
<div class="tg" style="left:130px;top:503px"></div>
<div class="abs" style="white-space:nowrap;left:164.3px;top:499.20px;font-size:13px;line-height:18px;letter-spacing:-0.148px;">Storage</div>
<div class="s ok" style="left:193px;top:518px"><div class="c"></div><svg width="14" height="12" viewBox="0 0 14 12"><path d="M3.3 6 L5.8 8.6 L10.3 3.4" fill="none" stroke="#fff" stroke-width="1.7"/></svg><div class="n" style="letter-spacing:-0.04px">Ping</div><div class="v" style="letter-spacing:-0.02px">0 msec</div></div>
<div class="s ok" style="left:291px;top:518px"><div class="c"></div><svg width="14" height="12" viewBox="0 0 14 12"><path d="M3.3 6 L5.8 8.6 L10.3 3.4" fill="none" stroke="#fff" stroke-width="1.7"/></svg><div class="n" style="letter-spacing:-0.03px">System Uptime</div><div class="v" style="letter-spacing:-0.07px">145 d</div></div>
<div class="s ok" style="left:389px;top:518px"><div class="c"></div><svg width="14" height="12" viewBox="0 0 14 12"><path d="M3.3 6 L5.8 8.6 L10.3 3.4" fill="none" stroke="#fff" stroke-width="1.7"/></svg><div class="n" style="letter-spacing:-0.03px">System Health</div><div class="v" style="letter-spacing:0.03px">Normal</div></div>
<div class="s ok" style="left:487px;top:518px"><div class="c"></div><svg width="14" height="12" viewBox="0 0 14 12"><path d="M3.3 6 L5.8 8.6 L10.3 3.4" fill="none" stroke="#fff" stroke-width="1.7"/></svg><div class="n" style="letter-spacing:-0.03px">(003) eth0 Traf...</div><div class="v" style="letter-spacing:0.21px">0 Mbit/s</div></div>
<div class="s ok" style="left:585px;top:518px"><div class="c"></div><svg width="14" height="12" viewBox="0 0 14 12"><path d="M3.3 6 L5.8 8.6 L10.3 3.4" fill="none" stroke="#fff" stroke-width="1.7"/></svg><div class="n" style="letter-spacing:-0.1px">Logical Disk: V...</div><div class="v" style="letter-spacing:0.03px">Normal</div></div>
<div class="s ok" style="left:683px;top:518px"><div class="c"></div><svg width="14" height="12" viewBox="0 0 14 12"><path d="M3.3 6 L5.8 8.6 L10.3 3.4" fill="none" stroke="#fff" stroke-width="1.7"/></svg><div class="n" style="letter-spacing:-0.16px">Physical Disk: ...</div><div class="v" style="letter-spacing:-0.27px">26 °C</div></div>
<div class="s ok" style="left:193px;top:548px"><div class="c"></div><svg width="14" height="12" viewBox="0 0 14 12"><path d="M3.3 6 L5.8 8.6 L10.3 3.4" fill="none" stroke="#fff" stroke-width="1.7"/></svg><div class="n" style="letter-spacing:-0.16px">Physical Disk: ...</div><div class="v" style="letter-spacing:-0.27px">32 °C</div></div>
<div class="s ok" style="left:291px;top:548px"><div class="c"></div><svg width="14" height="12" viewBox="0 0 14 12"><path d="M3.3 6 L5.8 8.6 L10.3 3.4" fill="none" stroke="#fff" stroke-width="1.7"/></svg><div class="n" style="letter-spacing:-0.16px">Physical Disk: ...</div><div class="v" style="letter-spacing:-0.27px">33 °C</div></div>
<div class="s ok" style="left:389px;top:548px"><div class="c"></div><svg width="14" height="12" viewBox="0 0 14 12"><path d="M3.3 6 L5.8 8.6 L10.3 3.4" fill="none" stroke="#fff" stroke-width="1.7"/></svg><div class="n" style="letter-spacing:-0.16px">Physical Disk: ...</div><div class="v" style="letter-spacing:-0.27px">32 °C</div></div>
<div class="tg" style="left:130px;top:590px"></div>
<div class="abs" style="white-space:nowrap;left:164.8px;top:587.20px;font-size:13px;line-height:18px;letter-spacing:0.093px;-webkit-text-stroke:0.4px #3d3d3d;">Host / VMs</div>
<div class="tg" style="left:149px;top:611px"></div>
<div class="abs" style="white-space:nowrap;left:183.8px;top:607.20px;font-size:13px;line-height:18px;letter-spacing:-0.108px;">Host</div>
<div class="s ok" style="left:212px;top:626px"><div class="c"></div><svg width="14" height="12" viewBox="0 0 14 12"><path d="M3.3 6 L5.8 8.6 L10.3 3.4" fill="none" stroke="#fff" stroke-width="1.7"/></svg><div class="n" style="letter-spacing:-0.04px">Ping</div><div class="v" style="letter-spacing:-0.02px">0 msec</div></div>
<div class="s ok" style="left:310px;top:626px"><div class="c"></div><svg width="14" height="12" viewBox="0 0 14 12"><path d="M3.3 6 L5.8 8.6 L10.3 3.4" fill="none" stroke="#fff" stroke-width="1.7"/></svg><div class="n" style="letter-spacing:-0.1px">Netapp-Cluster...</div><div class="v" style="letter-spacing:-0.3px">10.24 %</div></div>
<div class="s ok" style="left:408px;top:626px"><div class="c"></div><svg width="14" height="12" viewBox="0 0 14 12"><path d="M3.3 6 L5.8 8.6 L10.3 3.4" fill="none" stroke="#fff" stroke-width="1.7"/></svg><div class="n" style="letter-spacing:0.09px">Ping Jitter</div><div class="v" style="letter-spacing:-0.06px">0.33</div></div>
<div class="s ok" style="left:506px;top:626px"><div class="c"></div><svg width="14" height="12" viewBox="0 0 14 12"><path d="M3.3 6 L5.8 8.6 L10.3 3.4" fill="none" stroke="#fff" stroke-width="1.7"/></svg><div class="n" style="letter-spacing:-0.03px">System Health</div><div class="v" style="letter-spacing:0.03px">Normal</div></div>
<div class="s ok" style="left:604px;top:626px"><div class="c"></div><svg width="14" height="12" viewBox="0 0 14 12"><path d="M3.3 6 L5.8 8.6 L10.3 3.4" fill="none" stroke="#fff" stroke-width="1.7"/></svg><div class="n" style="letter-spacing:-0.16px">GLPI Virtual A...</div><div class="v" style="letter-spacing:-0.34px">0.29 %</div></div>
<div class="tg" style="left:149px;top:668px"></div>
<div class="abs" style="white-space:nowrap;left:183.8px;top:665.20px;font-size:13px;line-height:18px;letter-spacing:-0.229px;-webkit-text-stroke:0.4px #3d3d3d;">OS | Windows Server 2012 R2</div>
<div class="tg" style="left:168px;top:689px"></div>
<div class="abs" style="white-space:nowrap;left:202.7px;top:685.20px;font-size:13px;line-height:18px;letter-spacing:-0.107px;">System</div>
<div class="s ok" style="left:231px;top:704px"><div class="c"></div><svg width="14" height="12" viewBox="0 0 14 12"><path d="M3.3 6 L5.8 8.6 L10.3 3.4" fill="none" stroke="#fff" stroke-width="1.7"/></svg><div class="n" style="letter-spacing:-0.04px">Ping</div><div class="v" style="letter-spacing:-0.02px">0 msec</div></div>
<div class="s ok" style="left:329px;top:704px"><div class="c"></div><svg width="14" height="12" viewBox="0 0 14 12"><path d="M3.3 6 L5.8 8.6 L10.3 3.4" fill="none" stroke="#fff" stroke-width="1.7"/></svg><div class="n" style="letter-spacing:-0.03px">System Uptime</div><div class="v" style="letter-spacing:-0.07px">298 d</div></div>
<div class="s ok" style="left:427px;top:704px"><div class="c"></div><svg width="14" height="12" viewBox="0 0 14 12"><path d="M3.3 6 L5.8 8.6 L10.3 3.4" fill="none" stroke="#fff" stroke-width="1.7"/></svg><div class="n" style="letter-spacing:-0.28px">CPU Load</div><div class="v" style="letter-spacing:-0.47px">31 %</div></div>
<div class="s ok" style="left:525px;top:704px"><div class="c"></div><svg width="14" height="12" viewBox="0 0 14 12"><path d="M3.3 6 L5.8 8.6 L10.3 3.4" fill="none" stroke="#fff" stroke-width="1.7"/></svg><div class="n" style="letter-spacing:-0.13px">Memory: Physi...</div><div class="v" style="letter-spacing:-0.47px">20 %</div></div>
<div class="s ok" style="left:623px;top:704px"><div class="c"></div><svg width="14" height="12" viewBox="0 0 14 12"><path d="M3.3 6 L5.8 8.6 L10.3 3.4" fill="none" stroke="#fff" stroke-width="1.7"/></svg><div class="n" style="letter-spacing:-0.08px">Memory: Virtu...</div><div class="v" style="letter-spacing:-0.47px">22 %</div></div>
<div class="s ok" style="left:231px;top:734px"><div class="c"></div><svg width="14" height="12" viewBox="0 0 14 12"><path d="M3.3 6 L5.8 8.6 L10.3 3.4" fill="none" stroke="#fff" stroke-width="1.7"/></svg><div class="n" style="letter-spacing:-0.14px">Disk Free: C:\</div><div class="v" style="letter-spacing:-0.47px">30 %</div></div>
<div class="s ok" style="left:329px;top:734px"><div class="c"></div><svg width="14" height="12" viewBox="0 0 14 12"><path d="M3.3 6 L5.8 8.6 L10.3 3.4" fill="none" stroke="#fff" stroke-width="1.7"/></svg><div class="n" style="letter-spacing:0.09px">Ping Jitter</div><div class="v" style="letter-spacing:-0.06px">0.33</div></div>
<div class="s wa" style="left:427px;top:734px"><div class="c"></div><div class="m">W</div><div class="n" style="letter-spacing:-0.16px">Windows Upda...</div><div class="v" style="letter-spacing:-0.06px">1007 d</div></div>
<div class="tg" style="left:168px;top:773px"></div>
<div class="abs" style="white-space:nowrap;left:202.7px;top:769.20px;font-size:13px;line-height:18px;letter-spacing:0.115px;">Traffic</div>
<div class="s ok" style="left:231px;top:788px"><div class="c"></div><svg width="14" height="12" viewBox="0 0 14 12"><path d="M3.3 6 L5.8 8.6 L10.3 3.4" fill="none" stroke="#fff" stroke-width="1.7"/></svg><div class="n" style="letter-spacing:-0.04px">Ping</div><div class="v" style="letter-spacing:-0.02px">0 msec</div></div>
<div class="s ok" style="left:329px;top:788px"><div class="c"></div><svg width="14" height="12" viewBox="0 0 14 12"><path d="M3.3 6 L5.8 8.6 L10.3 3.4" fill="none" stroke="#fff" stroke-width="1.7"/></svg><div class="n" style="letter-spacing:0.09px">Ethernet0 Traffic</div><div class="v" style="letter-spacing:0.14px">1.62 Mbit/s</div></div>
<div class="s ok" style="left:427px;top:788px"><div class="c"></div><svg width="14" height="12" viewBox="0 0 14 12"><path d="M3.3 6 L5.8 8.6 L10.3 3.4" fill="none" stroke="#fff" stroke-width="1.7"/></svg><div class="n" style="letter-spacing:-0.37px">Intel[R] PRO_1...</div><div class="v" style="letter-spacing:0.14px">1.63 Mbit/s</div></div>
<div class="tg" style="left:168px;top:827px"></div>
<div class="abs" style="white-space:nowrap;left:202.7px;top:823.20px;font-size:13px;line-height:18px;letter-spacing:-0.119px;">Disk</div>
<div class="abs" style="left:939px;top:79px;width:365.5px;height:87px;background:#fff;box-shadow:0 0 4px rgba(0,0,0,.17)"></div>
<div class="abs" style="white-space:nowrap;left:958.1px;top:94.10px;font-size:13px;line-height:18px;letter-spacing:0.062px;">Status:</div>
<div class="abs" style="white-space:nowrap;left:1102.6px;top:94.10px;font-size:13px;line-height:18px;letter-spacing:-1.042px;-webkit-text-stroke:0.4px #3d3d3d;">OK</div>
<div class="abs" style="white-space:nowrap;left:958.1px;top:114.70px;font-size:13px;line-height:18px;letter-spacing:-0.02px;">Default Interval:</div>
<div class="abs" style="white-space:nowrap;left:1102.6px;top:114.70px;font-size:13px;line-height:18px;letter-spacing:-0.029px;-webkit-text-stroke:0.4px #3d3d3d;">60 seconds</div>
<div class="abs" style="white-space:nowrap;left:958.1px;top:135.70px;font-size:13px;line-height:18px;letter-spacing:-0.537px;">ID:</div>
<div class="abs" style="white-space:nowrap;left:1102.6px;top:135.70px;font-size:13px;line-height:18px;letter-spacing:0.42px;-webkit-text-stroke:0.4px #3d3d3d;">#0</div>
<svg class="abs" style="left:1275px;top:96px" width="17" height="17" viewBox="0 0 17 17" shape-rendering="crispEdges"><rect x="0" y="0" width="7" height="7" fill="#555"/><rect x="1" y="1" width="5" height="5" fill="#fff"/><rect x="2" y="2" width="3" height="3" fill="#555"/><rect x="9" y="0" width="7" height="7" fill="#555"/><rect x="10" y="1" width="5" height="5" fill="#fff"/><rect x="11" y="2" width="3" height="3" fill="#555"/><rect x="0" y="9" width="7" height="7" fill="#555"/><rect x="1" y="10" width="5" height="5" fill="#fff"/><rect x="2" y="11" width="3" height="3" fill="#555"/><rect x="9" y="15" width="1" height="1" fill="#666"/><rect x="9" y="16" width="1" height="1" fill="#666"/><rect x="10" y="12" width="1" height="1" fill="#666"/><rect x="10" y="13" width="1" height="1" fill="#666"/><rect x="10" y="14" width="1" height="1" fill="#666"/><rect x="11" y="9" width="1" height="1" fill="#666"/><rect x="11" y="10" width="1" height="1" fill="#666"/><rect x="11" y="11" width="1" height="1" fill="#666"/><rect x="11" y="14" width="1" height="1" fill="#666"/><rect x="11" y="16" width="1" height="1" fill="#666"/><rect x="12" y="10" width="1" height="1" fill="#666"/><rect x="12" y="11" width="1" height="1" fill="#666"/><rect x="12" y="13" width="1" height="1" fill="#666"/><rect x="12" y="14" width="1" height="1" fill="#666"/><rect x="13" y="9" width="1" height="1" fill="#666"/><rect x="13" y="13" width="1" height="1" fill="#666"/><rect x="14" y="10" width="1" height="1" fill="#666"/><rect x="14" y="11" width="1" height="1" fill="#666"/><rect x="14" y="12" width="1" height="1" fill="#666"/><rect x="14" y="13" width="1" height="1" fill="#666"/><rect x="14" y="14" width="1" height="1" fill="#666"/><rect x="14" y="15" width="1" height="1" fill="#666"/><rect x="15" y="9" width="1" height="1" fill="#666"/><rect x="15" y="11" width="1" height="1" fill="#666"/><rect x="15" y="12" width="1" height="1" fill="#666"/><rect x="15" y="14" width="1" height="1" fill="#666"/><rect x="15" y="15" width="1" height="1" fill="#666"/><rect x="15" y="16" width="1" height="1" fill="#666"/><rect x="16" y="10" width="1" height="1" fill="#666"/><rect x="16" y="12" width="1" height="1" fill="#666"/><rect x="16" y="15" width="1" height="1" fill="#666"/><rect x="7.6" y="0" width="1" height="17" fill="#fff"/></svg>
<div class="abs" style="left:939px;top:177px;width:367px;height:28px;background:#00a0d8"></div>
<svg class="abs" style="left:1082.5px;top:183.5px" width="12" height="12" viewBox="0 0 12 12"><circle cx="6" cy="6" r="5.6" fill="#fff"/><path d="M6 3V9M3 6H9" stroke="#00a0d8" stroke-width="1.7"/></svg>
<div class="abs" style="white-space:nowrap;left:1097.0px;top:181.70px;font-size:13px;line-height:18px;letter-spacing:-0.254px;-webkit-text-stroke:0.4px #fff;color:#fff;">Add Sensor</div>
<div class="abs" style="left:939px;top:216.5px;width:367px;height:131.3px;box-shadow:0 0 4px rgba(0,0,0,.2)"></div><svg class="abs" style="left:939px;top:216.5px" width="367" height="131.3" viewBox="0 0 367 131.3">
<defs><clipPath id="land">
<path d="M-2.0 -6.0 L-1.3 19.4 L3.7 31.1 L7.2 35.5 L7.9 51.3 L12.9 60.3 L17.9 64.6 L21.5 72.0 L27.9 79.9 L26.9 77.5 L24.0 72.0 L23.3 67.1 L21.3 66.6 L26.4 72.0 L32.8 79.9 L34.3 84.5 L44.9 90.4 L52.0 91.2 L59.1 94.9 L62.7 99.2 L67.0 102.1 L70.5 102.8 L71.2 100.9 L73.9 101.4 L71.9 99.9 L65.3 97.8 L65.8 91.9 L62.0 90.4 L58.4 90.7 L59.1 86.7 L60.6 82.2 L55.9 82.9 L54.2 86.7 L49.9 86.7 L45.3 81.4 L46.1 75.2 L47.8 71.2 L50.6 69.2 L56.3 70.0 L59.1 68.2 L62.7 68.7 L66.3 70.4 L66.8 73.6 L69.1 76.4 L70.2 76.0 L70.4 73.6 L68.5 67.9 L69.1 65.4 L73.4 62.0 L76.8 60.0 L76.2 56.8 L78.3 53.2 L79.1 50.2 L83.3 48.9 L84.7 47.6 L84.7 44.7 L89.0 42.7 L91.9 41.7 L90.7 44.7 L97.5 40.7 L98.3 38.0 L92.6 37.6 L92.6 33.3 L89.0 33.3 L90.4 30.7 L99.0 30.7 L105.1 26.6 L100.4 19.4 L95.4 11.7 L92.1 5.3 L88.3 10.4 L84.7 6.2 L84.0 3.3 L79.1 -1.2 L73.4 -0.6 L73.4 9.5 L75.2 16.9 L71.2 20.7 L70.9 28.2 L67.4 24.3 L67.0 18.9 L57.7 14.4 L52.7 13.0 L49.6 9.0 L50.6 3.3 L53.5 -6.0 Z" fill="#000" />
<path d="M100.1 36.3 L108.6 38.2 L108.9 34.4 L104.9 31.6 L105.2 27.8 L102.5 31.1 Z" fill="#000" />
<path d="M74.4 101.4 L77.9 97.8 L82.3 95.7 L82.6 97.8 L87.6 98.5 L93.3 98.3 L96.1 98.2 L99.0 101.4 L102.8 105.0 L107.5 105.2 L110.9 107.4 L113.2 111.1 L113.2 113.5 L116.0 114.9 L121.7 117.1 L127.4 117.5 L132.4 120.6 L134.8 124.2 L133.1 127.8 L128.8 135.1 L76.2 135.1 L75.5 132.1 L71.9 124.9 L69.1 122.0 L68.7 119.9 L69.2 116.6 L70.5 112.1 L72.5 110.7 L74.4 107.8 L73.8 103.5 Z" fill="#000" />
<path d="M175.9 58.9 L181.5 60.0 L188.6 57.1 L198.5 56.6 L198.8 62.0 L201.4 63.7 L205.6 64.1 L211.3 68.2 L214.9 64.1 L219.9 66.3 L227.0 66.8 L230.2 66.9 L230.5 68.9 L232.7 73.6 L236.9 81.4 L239.1 87.5 L240.9 91.9 L245.9 95.6 L245.7 97.0 L248.3 98.6 L257.1 96.6 L257.1 98.6 L253.0 106.4 L247.6 111.4 L243.3 115.6 L240.5 119.9 L240.3 123.2 L241.8 128.5 L242.0 135.1 L201.4 135.1 L202.1 132.1 L203.1 126.4 L201.8 122.0 L197.1 114.9 L197.8 112.1 L198.1 107.8 L194.3 107.2 L190.0 104.5 L186.4 104.7 L181.5 106.4 L177.9 106.4 L173.6 107.2 L168.9 104.5 L165.5 101.5 L163.0 98.0 L160.4 95.9 L159.4 92.4 L161.0 89.7 L160.1 83.2 L161.5 78.3 L163.7 75.2 L166.0 72.0 L170.5 68.1 L171.1 64.6 L174.3 62.2 Z" fill="#000" />
<path d="M230.7 66.9 L233.4 66.3 L234.6 62.9 L235.2 59.4 L235.5 57.1 L233.4 57.5 L230.9 58.4 L228.4 57.1 L226.3 58.2 L224.8 57.3 L223.1 56.8 L222.0 54.1 L221.6 51.3 L221.6 50.2 L221.3 49.5 L218.9 49.8 L218.1 51.0 L216.6 50.8 L217.0 53.2 L218.4 55.0 L217.3 55.9 L216.7 57.7 L215.3 57.1 L214.5 54.5 L213.5 53.2 L211.9 50.8 L212.0 48.9 L210.3 46.6 L207.1 44.7 L204.9 42.1 L203.8 41.7 L203.6 40.3 L201.9 40.9 L201.8 42.7 L203.6 44.7 L205.6 47.6 L207.1 47.8 L208.5 49.5 L210.5 51.7 L208.5 50.4 L207.9 51.3 L208.8 53.2 L207.3 55.0 L206.6 55.0 L207.3 53.4 L206.6 51.3 L204.9 50.2 L202.8 49.1 L200.2 46.8 L198.9 44.7 L196.8 42.9 L195.1 44.1 L193.5 45.4 L191.8 45.0 L189.3 45.0 L188.9 47.0 L187.3 48.9 L185.4 49.8 L183.9 52.3 L184.6 53.5 L183.2 55.7 L181.2 57.3 L178.0 57.3 L176.3 58.6 L174.3 56.4 L171.6 56.8 L170.9 53.7 L171.9 49.5 L171.2 45.6 L173.2 44.3 L178.6 44.9 L182.0 44.7 L182.6 39.7 L180.5 36.5 L177.6 34.6 L179.6 33.8 L181.9 34.2 L181.7 31.8 L182.6 32.5 L184.6 32.2 L186.4 31.1 L187.1 28.9 L189.3 27.8 L190.8 25.5 L191.4 23.8 L194.3 23.1 L196.8 21.9 L196.0 18.2 L196.1 14.4 L199.2 12.5 L198.9 14.4 L198.1 18.2 L198.5 19.9 L199.9 21.7 L204.2 21.4 L210.3 19.9 L210.9 20.9 L212.7 20.2 L214.2 16.9 L215.2 12.8 L218.9 13.0 L218.0 10.9 L219.1 7.9 L224.1 7.6 L227.3 6.5 L224.1 4.8 L219.1 6.2 L214.9 4.8 L214.6 0.3 L215.6 -6.0 L372.0 -6.0 L371.7 45.6 L368.8 48.5 L365.8 52.3 L368.3 56.8 L367.8 60.3 L364.1 60.8 L364.2 56.8 L362.1 55.0 L360.7 51.7 L357.1 53.2 L357.1 50.4 L352.8 52.6 L351.7 54.1 L353.5 56.4 L356.4 55.7 L358.5 56.8 L355.7 58.6 L354.3 61.2 L357.1 65.9 L357.8 68.7 L357.1 72.0 L354.5 75.2 L350.7 79.1 L346.4 80.6 L341.0 84.0 L340.7 82.5 L337.9 82.2 L334.8 84.8 L335.8 88.2 L338.8 91.2 L339.6 96.3 L336.5 98.6 L333.3 101.2 L332.9 98.5 L329.8 96.0 L326.5 94.4 L325.4 99.9 L327.2 103.5 L330.8 105.7 L331.9 109.9 L331.5 111.7 L328.4 109.2 L326.5 104.2 L324.1 102.1 L324.4 99.2 L324.0 94.1 L323.0 89.7 L318.4 90.4 L318.7 88.2 L316.1 83.7 L314.4 80.6 L310.9 81.4 L308.0 82.2 L305.2 85.2 L301.3 89.0 L298.8 90.7 L298.5 94.9 L297.8 98.8 L296.7 100.2 L294.5 101.9 L291.0 96.3 L289.5 91.9 L287.8 86.0 L287.6 81.1 L285.0 83.2 L282.4 80.6 L281.0 78.8 L278.9 76.4 L271.1 76.3 L266.5 75.8 L264.9 73.6 L262.5 74.2 L259.1 72.8 L256.5 70.4 L253.7 68.7 L252.6 69.9 L254.8 73.6 L255.8 76.0 L257.1 75.2 L257.7 78.0 L260.4 78.3 L262.8 76.4 L264.4 74.9 L264.8 77.9 L267.5 78.8 L269.3 80.6 L266.4 86.0 L262.5 89.0 L258.5 91.2 L253.3 93.4 L248.3 95.3 L245.9 94.9 L244.6 89.0 L239.9 82.9 L237.2 76.8 L234.1 69.6 L233.2 72.0 L230.7 68.7 Z" fill="#000" />
<path d="M190.0 -6.0 L191.4 0.3 L192.1 9.0 L194.3 11.7 L199.2 9.0 L200.4 10.4 L202.4 16.9 L202.8 18.4 L205.1 16.9 L207.1 16.4 L208.5 9.8 L211.0 6.2 L208.9 4.2 L209.2 0.3 L212.7 -6.0 Z" fill="#000" />
<path d="M176.5 31.1 L179.3 29.6 L182.9 29.6 L186.1 28.9 L185.7 27.8 L186.7 24.5 L184.7 24.3 L183.3 20.7 L181.5 17.4 L180.3 16.4 L181.7 13.0 L178.6 12.5 L179.9 10.1 L177.2 10.1 L175.8 13.0 L175.8 15.7 L177.2 18.2 L177.2 19.9 L179.3 20.7 L180.0 23.6 L177.9 23.6 L177.8 24.8 L177.2 26.6 L177.2 27.5 L179.7 28.0 L178.3 28.5 Z" fill="#000" />
<path d="M170.4 27.8 L175.3 26.6 L175.6 23.1 L175.5 18.9 L173.5 18.7 L170.1 21.2 L170.1 23.6 L170.4 25.5 Z" fill="#000" />
<path d="M63.6 81.6 L67.0 79.7 L69.8 79.6 L73.4 81.1 L76.9 82.9 L78.8 84.2 L74.1 84.6 L73.4 83.4 L68.4 82.0 L65.5 81.1 Z" fill="#000" />
<path d="M79.9 84.6 L84.7 84.8 L87.0 86.6 L83.3 87.2 L78.5 87.2 Z" fill="#000" />
<path d="M202.1 54.6 L206.5 54.6 L205.8 57.3 L202.1 55.9 Z" fill="#000" />
<path d="M197.4 49.1 L198.2 50.4 L197.8 53.0 L196.2 53.2 L196.0 49.8 Z" fill="#000" />
<path d="M197.7 45.6 L197.4 48.7 L196.5 46.6 Z" fill="#000" />
<path d="M217.9 59.4 L221.6 59.8 L219.9 60.3 L217.9 60.0 Z" fill="#000" />
<path d="M233.4 59.3 L232.7 60.3 L231.2 61.0 L230.2 60.0 L231.9 59.6 Z" fill="#000" />
<path d="M202.1 17.2 L201.8 19.4 L199.9 18.9 L199.9 17.4 Z" fill="#000" />
<path d="M298.1 99.5 L299.8 101.4 L300.5 104.2 L298.4 105.0 L297.7 102.1 Z" fill="#000" />
<path d="M319.8 105.5 L325.1 109.2 L331.5 113.5 L335.1 117.8 L334.6 121.8 L329.4 119.2 L326.9 114.9 L323.7 110.7 L320.8 107.8 Z" fill="#000" />
<path d="M334.3 122.0 L338.6 123.2 L342.2 122.8 L346.9 124.2 L346.9 125.6 L340.7 124.9 L335.8 124.2 Z" fill="#000" />
<path d="M350.7 103.5 L353.5 106.4 L353.3 112.1 L351.4 114.9 L349.3 119.2 L345.0 118.2 L341.2 117.8 L339.3 113.5 L340.0 110.9 L342.6 109.5 L347.1 106.7 Z" fill="#000" />
<path d="M356.1 111.7 L361.4 112.4 L359.2 114.2 L355.7 112.8 L356.4 118.5 L355.4 121.3 L353.5 117.8 L354.7 113.5 Z" fill="#000" />
<path d="M355.8 86.7 L358.1 87.0 L357.8 93.4 L360.7 94.9 L356.4 93.8 L355.7 92.7 L355.3 90.0 Z" fill="#000" />
<path d="M362.8 99.6 L363.8 104.2 L362.5 105.0 L357.8 102.8 L359.9 101.4 Z" fill="#000" />
<path d="M359.2 97.0 L360.7 99.2 L358.5 99.9 L357.8 97.8 Z" fill="#000" />
<path d="M357.1 76.4 L356.1 81.4 L355.0 79.9 L356.4 76.8 Z" fill="#000" />
<path d="M341.5 84.5 L340.0 87.0 L338.8 86.0 L340.0 84.5 Z" fill="#000" />
<path d="M347.9 125.2 L353.5 125.6 L350.7 126.4 L347.9 126.1 Z" fill="#000" />
<path d="M355.0 125.3 L362.1 125.6 L360.7 127.8 L355.0 126.4 Z" fill="#000" />
<path d="M316.1 97.0 L316.6 94.1 L315.9 96.3 Z" fill="#000" />
</clipPath><filter id="bl" x="-20%" y="-20%" width="140%" height="140%"><feGaussianBlur stdDeviation="3.2"/></filter><filter id="bs" x="-5%" y="-5%" width="110%" height="110%"><feGaussianBlur stdDeviation="0.45"/></filter></defs>
<rect width="100%" height="100%" fill="#8ec4f9"/>
<g filter="url(#bs)">
<g stroke="#b9dbfb" stroke-width="5" stroke-linejoin="round" fill="#b9dbfb" opacity="0.75">
<path d="M-2.0 -6.0 L-1.3 19.4 L3.7 31.1 L7.2 35.5 L7.9 51.3 L12.9 60.3 L17.9 64.6 L21.5 72.0 L27.9 79.9 L26.9 77.5 L24.0 72.0 L23.3 67.1 L21.3 66.6 L26.4 72.0 L32.8 79.9 L34.3 84.5 L44.9 90.4 L52.0 91.2 L59.1 94.9 L62.7 99.2 L67.0 102.1 L70.5 102.8 L71.2 100.9 L73.9 101.4 L71.9 99.9 L65.3 97.8 L65.8 91.9 L62.0 90.4 L58.4 90.7 L59.1 86.7 L60.6 82.2 L55.9 82.9 L54.2 86.7 L49.9 86.7 L45.3 81.4 L46.1 75.2 L47.8 71.2 L50.6 69.2 L56.3 70.0 L59.1 68.2 L62.7 68.7 L66.3 70.4 L66.8 73.6 L69.1 76.4 L70.2 76.0 L70.4 73.6 L68.5 67.9 L69.1 65.4 L73.4 62.0 L76.8 60.0 L76.2 56.8 L78.3 53.2 L79.1 50.2 L83.3 48.9 L84.7 47.6 L84.7 44.7 L89.0 42.7 L91.9 41.7 L90.7 44.7 L97.5 40.7 L98.3 38.0 L92.6 37.6 L92.6 33.3 L89.0 33.3 L90.4 30.7 L99.0 30.7 L105.1 26.6 L100.4 19.4 L95.4 11.7 L92.1 5.3 L88.3 10.4 L84.7 6.2 L84.0 3.3 L79.1 -1.2 L73.4 -0.6 L73.4 9.5 L75.2 16.9 L71.2 20.7 L70.9 28.2 L67.4 24.3 L67.0 18.9 L57.7 14.4 L52.7 13.0 L49.6 9.0 L50.6 3.3 L53.5 -6.0 Z" fill="#b9dbfb" />
<path d="M100.1 36.3 L108.6 38.2 L108.9 34.4 L104.9 31.6 L105.2 27.8 L102.5 31.1 Z" fill="#b9dbfb" />
<path d="M74.4 101.4 L77.9 97.8 L82.3 95.7 L82.6 97.8 L87.6 98.5 L93.3 98.3 L96.1 98.2 L99.0 101.4 L102.8 105.0 L107.5 105.2 L110.9 107.4 L113.2 111.1 L113.2 113.5 L116.0 114.9 L121.7 117.1 L127.4 117.5 L132.4 120.6 L134.8 124.2 L133.1 127.8 L128.8 135.1 L76.2 135.1 L75.5 132.1 L71.9 124.9 L69.1 122.0 L68.7 119.9 L69.2 116.6 L70.5 112.1 L72.5 110.7 L74.4 107.8 L73.8 103.5 Z" fill="#b9dbfb" />
<path d="M175.9 58.9 L181.5 60.0 L188.6 57.1 L198.5 56.6 L198.8 62.0 L201.4 63.7 L205.6 64.1 L211.3 68.2 L214.9 64.1 L219.9 66.3 L227.0 66.8 L230.2 66.9 L230.5 68.9 L232.7 73.6 L236.9 81.4 L239.1 87.5 L240.9 91.9 L245.9 95.6 L245.7 97.0 L248.3 98.6 L257.1 96.6 L257.1 98.6 L253.0 106.4 L247.6 111.4 L243.3 115.6 L240.5 119.9 L240.3 123.2 L241.8 128.5 L242.0 135.1 L201.4 135.1 L202.1 132.1 L203.1 126.4 L201.8 122.0 L197.1 114.9 L197.8 112.1 L198.1 107.8 L194.3 107.2 L190.0 104.5 L186.4 104.7 L181.5 106.4 L177.9 106.4 L173.6 107.2 L168.9 104.5 L165.5 101.5 L163.0 98.0 L160.4 95.9 L159.4 92.4 L161.0 89.7 L160.1 83.2 L161.5 78.3 L163.7 75.2 L166.0 72.0 L170.5 68.1 L171.1 64.6 L174.3 62.2 Z" fill="#b9dbfb" />
<path d="M230.7 66.9 L233.4 66.3 L234.6 62.9 L235.2 59.4 L235.5 57.1 L233.4 57.5 L230.9 58.4 L228.4 57.1 L226.3 58.2 L224.8 57.3 L223.1 56.8 L222.0 54.1 L221.6 51.3 L221.6 50.2 L221.3 49.5 L218.9 49.8 L218.1 51.0 L216.6 50.8 L217.0 53.2 L218.4 55.0 L217.3 55.9 L216.7 57.7 L215.3 57.1 L214.5 54.5 L213.5 53.2 L211.9 50.8 L212.0 48.9 L210.3 46.6 L207.1 44.7 L204.9 42.1 L203.8 41.7 L203.6 40.3 L201.9 40.9 L201.8 42.7 L203.6 44.7 L205.6 47.6 L207.1 47.8 L208.5 49.5 L210.5 51.7 L208.5 50.4 L207.9 51.3 L208.8 53.2 L207.3 55.0 L206.6 55.0 L207.3 53.4 L206.6 51.3 L204.9 50.2 L202.8 49.1 L200.2 46.8 L198.9 44.7 L196.8 42.9 L195.1 44.1 L193.5 45.4 L191.8 45.0 L189.3 45.0 L188.9 47.0 L187.3 48.9 L185.4 49.8 L183.9 52.3 L184.6 53.5 L183.2 55.7 L181.2 57.3 L178.0 57.3 L176.3 58.6 L174.3 56.4 L171.6 56.8 L170.9 53.7 L171.9 49.5 L171.2 45.6 L173.2 44.3 L178.6 44.9 L182.0 44.7 L182.6 39.7 L180.5 36.5 L177.6 34.6 L179.6 33.8 L181.9 34.2 L181.7 31.8 L182.6 32.5 L184.6 32.2 L186.4 31.1 L187.1 28.9 L189.3 27.8 L190.8 25.5 L191.4 23.8 L194.3 23.1 L196.8 21.9 L196.0 18.2 L196.1 14.4 L199.2 12.5 L198.9 14.4 L198.1 18.2 L198.5 19.9 L199.9 21.7 L204.2 21.4 L210.3 19.9 L210.9 20.9 L212.7 20.2 L214.2 16.9 L215.2 12.8 L218.9 13.0 L218.0 10.9 L219.1 7.9 L224.1 7.6 L227.3 6.5 L224.1 4.8 L219.1 6.2 L214.9 4.8 L214.6 0.3 L215.6 -6.0 L372.0 -6.0 L371.7 45.6 L368.8 48.5 L365.8 52.3 L368.3 56.8 L367.8 60.3 L364.1 60.8 L364.2 56.8 L362.1 55.0 L360.7 51.7 L357.1 53.2 L357.1 50.4 L352.8 52.6 L351.7 54.1 L353.5 56.4 L356.4 55.7 L358.5 56.8 L355.7 58.6 L354.3 61.2 L357.1 65.9 L357.8 68.7 L357.1 72.0 L354.5 75.2 L350.7 79.1 L346.4 80.6 L341.0 84.0 L340.7 82.5 L337.9 82.2 L334.8 84.8 L335.8 88.2 L338.8 91.2 L339.6 96.3 L336.5 98.6 L333.3 101.2 L332.9 98.5 L329.8 96.0 L326.5 94.4 L325.4 99.9 L327.2 103.5 L330.8 105.7 L331.9 109.9 L331.5 111.7 L328.4 109.2 L326.5 104.2 L324.1 102.1 L324.4 99.2 L324.0 94.1 L323.0 89.7 L318.4 90.4 L318.7 88.2 L316.1 83.7 L314.4 80.6 L310.9 81.4 L308.0 82.2 L305.2 85.2 L301.3 89.0 L298.8 90.7 L298.5 94.9 L297.8 98.8 L296.7 100.2 L294.5 101.9 L291.0 96.3 L289.5 91.9 L287.8 86.0 L287.6 81.1 L285.0 83.2 L282.4 80.6 L281.0 78.8 L278.9 76.4 L271.1 76.3 L266.5 75.8 L264.9 73.6 L262.5 74.2 L259.1 72.8 L256.5 70.4 L253.7 68.7 L252.6 69.9 L254.8 73.6 L255.8 76.0 L257.1 75.2 L257.7 78.0 L260.4 78.3 L262.8 76.4 L264.4 74.9 L264.8 77.9 L267.5 78.8 L269.3 80.6 L266.4 86.0 L262.5 89.0 L258.5 91.2 L253.3 93.4 L248.3 95.3 L245.9 94.9 L244.6 89.0 L239.9 82.9 L237.2 76.8 L234.1 69.6 L233.2 72.0 L230.7 68.7 Z" fill="#b9dbfb" />
<path d="M190.0 -6.0 L191.4 0.3 L192.1 9.0 L194.3 11.7 L199.2 9.0 L200.4 10.4 L202.4 16.9 L202.8 18.4 L205.1 16.9 L207.1 16.4 L208.5 9.8 L211.0 6.2 L208.9 4.2 L209.2 0.3 L212.7 -6.0 Z" fill="#b9dbfb" />
<path d="M176.5 31.1 L179.3 29.6 L182.9 29.6 L186.1 28.9 L185.7 27.8 L186.7 24.5 L184.7 24.3 L183.3 20.7 L181.5 17.4 L180.3 16.4 L181.7 13.0 L178.6 12.5 L179.9 10.1 L177.2 10.1 L175.8 13.0 L175.8 15.7 L177.2 18.2 L177.2 19.9 L179.3 20.7 L180.0 23.6 L177.9 23.6 L177.8 24.8 L177.2 26.6 L177.2 27.5 L179.7 28.0 L178.3 28.5 Z" fill="#b9dbfb" />
<path d="M170.4 27.8 L175.3 26.6 L175.6 23.1 L175.5 18.9 L173.5 18.7 L170.1 21.2 L170.1 23.6 L170.4 25.5 Z" fill="#b9dbfb" />
<path d="M63.6 81.6 L67.0 79.7 L69.8 79.6 L73.4 81.1 L76.9 82.9 L78.8 84.2 L74.1 84.6 L73.4 83.4 L68.4 82.0 L65.5 81.1 Z" fill="#b9dbfb" />
<path d="M79.9 84.6 L84.7 84.8 L87.0 86.6 L83.3 87.2 L78.5 87.2 Z" fill="#b9dbfb" />
<path d="M73.4 -6.0 L84.7 -1.2 L90.4 0.9 L92.6 -2.8 L93.3 -6.0 Z" fill="#b9dbfb" />
<path d="M110.3 -6.0 L115.3 3.3 L121.7 6.5 L123.7 3.3 L126.7 -6.0 Z" fill="#b9dbfb" />
<path d="M202.1 54.6 L206.5 54.6 L205.8 57.3 L202.1 55.9 Z" fill="#b9dbfb" />
<path d="M197.4 49.1 L198.2 50.4 L197.8 53.0 L196.2 53.2 L196.0 49.8 Z" fill="#b9dbfb" />
<path d="M197.7 45.6 L197.4 48.7 L196.5 46.6 Z" fill="#b9dbfb" />
<path d="M217.9 59.4 L221.6 59.8 L219.9 60.3 L217.9 60.0 Z" fill="#b9dbfb" />
<path d="M233.4 59.3 L232.7 60.3 L231.2 61.0 L230.2 60.0 L231.9 59.6 Z" fill="#b9dbfb" />
<path d="M202.1 17.2 L201.8 19.4 L199.9 18.9 L199.9 17.4 Z" fill="#b9dbfb" />
<path d="M298.1 99.5 L299.8 101.4 L300.5 104.2 L298.4 105.0 L297.7 102.1 Z" fill="#b9dbfb" />
<path d="M319.8 105.5 L325.1 109.2 L331.5 113.5 L335.1 117.8 L334.6 121.8 L329.4 119.2 L326.9 114.9 L323.7 110.7 L320.8 107.8 Z" fill="#b9dbfb" />
<path d="M334.3 122.0 L338.6 123.2 L342.2 122.8 L346.9 124.2 L346.9 125.6 L340.7 124.9 L335.8 124.2 Z" fill="#b9dbfb" />
<path d="M350.7 103.5 L353.5 106.4 L353.3 112.1 L351.4 114.9 L349.3 119.2 L345.0 118.2 L341.2 117.8 L339.3 113.5 L340.0 110.9 L342.6 109.5 L347.1 106.7 Z" fill="#b9dbfb" />
<path d="M356.1 111.7 L361.4 112.4 L359.2 114.2 L355.7 112.8 L356.4 118.5 L355.4 121.3 L353.5 117.8 L354.7 113.5 Z" fill="#b9dbfb" />
<path d="M355.8 86.7 L358.1 87.0 L357.8 93.4 L360.7 94.9 L356.4 93.8 L355.7 92.7 L355.3 90.0 Z" fill="#b9dbfb" />
<path d="M362.8 99.6 L363.8 104.2 L362.5 105.0 L357.8 102.8 L359.9 101.4 Z" fill="#b9dbfb" />
<path d="M359.2 97.0 L360.7 99.2 L358.5 99.9 L357.8 97.8 Z" fill="#b9dbfb" />
<path d="M357.1 76.4 L356.1 81.4 L355.0 79.9 L356.4 76.8 Z" fill="#b9dbfb" />
<path d="M341.5 84.5 L340.0 87.0 L338.8 86.0 L340.0 84.5 Z" fill="#b9dbfb" />
<path d="M347.9 125.2 L353.5 125.6 L350.7 126.4 L347.9 126.1 Z" fill="#b9dbfb" />
<path d="M355.0 125.3 L362.1 125.6 L360.7 127.8 L355.0 126.4 Z" fill="#b9dbfb" />
<path d="M316.1 97.0 L316.6 94.1 L315.9 96.3 Z" fill="#b9dbfb" />
</g>
<path d="M-2.0 -6.0 L-1.3 19.4 L3.7 31.1 L7.2 35.5 L7.9 51.3 L12.9 60.3 L17.9 64.6 L21.5 72.0 L27.9 79.9 L26.9 77.5 L24.0 72.0 L23.3 67.1 L21.3 66.6 L26.4 72.0 L32.8 79.9 L34.3 84.5 L44.9 90.4 L52.0 91.2 L59.1 94.9 L62.7 99.2 L67.0 102.1 L70.5 102.8 L71.2 100.9 L73.9 101.4 L71.9 99.9 L65.3 97.8 L65.8 91.9 L62.0 90.4 L58.4 90.7 L59.1 86.7 L60.6 82.2 L55.9 82.9 L54.2 86.7 L49.9 86.7 L45.3 81.4 L46.1 75.2 L47.8 71.2 L50.6 69.2 L56.3 70.0 L59.1 68.2 L62.7 68.7 L66.3 70.4 L66.8 73.6 L69.1 76.4 L70.2 76.0 L70.4 73.6 L68.5 67.9 L69.1 65.4 L73.4 62.0 L76.8 60.0 L76.2 56.8 L78.3 53.2 L79.1 50.2 L83.3 48.9 L84.7 47.6 L84.7 44.7 L89.0 42.7 L91.9 41.7 L90.7 44.7 L97.5 40.7 L98.3 38.0 L92.6 37.6 L92.6 33.3 L89.0 33.3 L90.4 30.7 L99.0 30.7 L105.1 26.6 L100.4 19.4 L95.4 11.7 L92.1 5.3 L88.3 10.4 L84.7 6.2 L84.0 3.3 L79.1 -1.2 L73.4 -0.6 L73.4 9.5 L75.2 16.9 L71.2 20.7 L70.9 28.2 L67.4 24.3 L67.0 18.9 L57.7 14.4 L52.7 13.0 L49.6 9.0 L50.6 3.3 L53.5 -6.0 Z" fill="#f6f8f5" />
<path d="M100.1 36.3 L108.6 38.2 L108.9 34.4 L104.9 31.6 L105.2 27.8 L102.5 31.1 Z" fill="#f6f8f5" />
<path d="M74.4 101.4 L77.9 97.8 L82.3 95.7 L82.6 97.8 L87.6 98.5 L93.3 98.3 L96.1 98.2 L99.0 101.4 L102.8 105.0 L107.5 105.2 L110.9 107.4 L113.2 111.1 L113.2 113.5 L116.0 114.9 L121.7 117.1 L127.4 117.5 L132.4 120.6 L134.8 124.2 L133.1 127.8 L128.8 135.1 L76.2 135.1 L75.5 132.1 L71.9 124.9 L69.1 122.0 L68.7 119.9 L69.2 116.6 L70.5 112.1 L72.5 110.7 L74.4 107.8 L73.8 103.5 Z" fill="#f6f8f5" />
<path d="M175.9 58.9 L181.5 60.0 L188.6 57.1 L198.5 56.6 L198.8 62.0 L201.4 63.7 L205.6 64.1 L211.3 68.2 L214.9 64.1 L219.9 66.3 L227.0 66.8 L230.2 66.9 L230.5 68.9 L232.7 73.6 L236.9 81.4 L239.1 87.5 L240.9 91.9 L245.9 95.6 L245.7 97.0 L248.3 98.6 L257.1 96.6 L257.1 98.6 L253.0 106.4 L247.6 111.4 L243.3 115.6 L240.5 119.9 L240.3 123.2 L241.8 128.5 L242.0 135.1 L201.4 135.1 L202.1 132.1 L203.1 126.4 L201.8 122.0 L197.1 114.9 L197.8 112.1 L198.1 107.8 L194.3 107.2 L190.0 104.5 L186.4 104.7 L181.5 106.4 L177.9 106.4 L173.6 107.2 L168.9 104.5 L165.5 101.5 L163.0 98.0 L160.4 95.9 L159.4 92.4 L161.0 89.7 L160.1 83.2 L161.5 78.3 L163.7 75.2 L166.0 72.0 L170.5 68.1 L171.1 64.6 L174.3 62.2 Z" fill="#f6f8f5" />
<path d="M230.7 66.9 L233.4 66.3 L234.6 62.9 L235.2 59.4 L235.5 57.1 L233.4 57.5 L230.9 58.4 L228.4 57.1 L226.3 58.2 L224.8 57.3 L223.1 56.8 L222.0 54.1 L221.6 51.3 L221.6 50.2 L221.3 49.5 L218.9 49.8 L218.1 51.0 L216.6 50.8 L217.0 53.2 L218.4 55.0 L217.3 55.9 L216.7 57.7 L215.3 57.1 L214.5 54.5 L213.5 53.2 L211.9 50.8 L212.0 48.9 L210.3 46.6 L207.1 44.7 L204.9 42.1 L203.8 41.7 L203.6 40.3 L201.9 40.9 L201.8 42.7 L203.6 44.7 L205.6 47.6 L207.1 47.8 L208.5 49.5 L210.5 51.7 L208.5 50.4 L207.9 51.3 L208.8 53.2 L207.3 55.0 L206.6 55.0 L207.3 53.4 L206.6 51.3 L204.9 50.2 L202.8 49.1 L200.2 46.8 L198.9 44.7 L196.8 42.9 L195.1 44.1 L193.5 45.4 L191.8 45.0 L189.3 45.0 L188.9 47.0 L187.3 48.9 L185.4 49.8 L183.9 52.3 L184.6 53.5 L183.2 55.7 L181.2 57.3 L178.0 57.3 L176.3 58.6 L174.3 56.4 L171.6 56.8 L170.9 53.7 L171.9 49.5 L171.2 45.6 L173.2 44.3 L178.6 44.9 L182.0 44.7 L182.6 39.7 L180.5 36.5 L177.6 34.6 L179.6 33.8 L181.9 34.2 L181.7 31.8 L182.6 32.5 L184.6 32.2 L186.4 31.1 L187.1 28.9 L189.3 27.8 L190.8 25.5 L191.4 23.8 L194.3 23.1 L196.8 21.9 L196.0 18.2 L196.1 14.4 L199.2 12.5 L198.9 14.4 L198.1 18.2 L198.5 19.9 L199.9 21.7 L204.2 21.4 L210.3 19.9 L210.9 20.9 L212.7 20.2 L214.2 16.9 L215.2 12.8 L218.9 13.0 L218.0 10.9 L219.1 7.9 L224.1 7.6 L227.3 6.5 L224.1 4.8 L219.1 6.2 L214.9 4.8 L214.6 0.3 L215.6 -6.0 L372.0 -6.0 L371.7 45.6 L368.8 48.5 L365.8 52.3 L368.3 56.8 L367.8 60.3 L364.1 60.8 L364.2 56.8 L362.1 55.0 L360.7 51.7 L357.1 53.2 L357.1 50.4 L352.8 52.6 L351.7 54.1 L353.5 56.4 L356.4 55.7 L358.5 56.8 L355.7 58.6 L354.3 61.2 L357.1 65.9 L357.8 68.7 L357.1 72.0 L354.5 75.2 L350.7 79.1 L346.4 80.6 L341.0 84.0 L340.7 82.5 L337.9 82.2 L334.8 84.8 L335.8 88.2 L338.8 91.2 L339.6 96.3 L336.5 98.6 L333.3 101.2 L332.9 98.5 L329.8 96.0 L326.5 94.4 L325.4 99.9 L327.2 103.5 L330.8 105.7 L331.9 109.9 L331.5 111.7 L328.4 109.2 L326.5 104.2 L324.1 102.1 L324.4 99.2 L324.0 94.1 L323.0 89.7 L318.4 90.4 L318.7 88.2 L316.1 83.7 L314.4 80.6 L310.9 81.4 L308.0 82.2 L305.2 85.2 L301.3 89.0 L298.8 90.7 L298.5 94.9 L297.8 98.8 L296.7 100.2 L294.5 101.9 L291.0 96.3 L289.5 91.9 L287.8 86.0 L287.6 81.1 L285.0 83.2 L282.4 80.6 L281.0 78.8 L278.9 76.4 L271.1 76.3 L266.5 75.8 L264.9 73.6 L262.5 74.2 L259.1 72.8 L256.5 70.4 L253.7 68.7 L252.6 69.9 L254.8 73.6 L255.8 76.0 L257.1 75.2 L257.7 78.0 L260.4 78.3 L262.8 76.4 L264.4 74.9 L264.8 77.9 L267.5 78.8 L269.3 80.6 L266.4 86.0 L262.5 89.0 L258.5 91.2 L253.3 93.4 L248.3 95.3 L245.9 94.9 L244.6 89.0 L239.9 82.9 L237.2 76.8 L234.1 69.6 L233.2 72.0 L230.7 68.7 Z" fill="#f6f8f5" />
<path d="M190.0 -6.0 L191.4 0.3 L192.1 9.0 L194.3 11.7 L199.2 9.0 L200.4 10.4 L202.4 16.9 L202.8 18.4 L205.1 16.9 L207.1 16.4 L208.5 9.8 L211.0 6.2 L208.9 4.2 L209.2 0.3 L212.7 -6.0 Z" fill="#f6f8f5" />
<path d="M176.5 31.1 L179.3 29.6 L182.9 29.6 L186.1 28.9 L185.7 27.8 L186.7 24.5 L184.7 24.3 L183.3 20.7 L181.5 17.4 L180.3 16.4 L181.7 13.0 L178.6 12.5 L179.9 10.1 L177.2 10.1 L175.8 13.0 L175.8 15.7 L177.2 18.2 L177.2 19.9 L179.3 20.7 L180.0 23.6 L177.9 23.6 L177.8 24.8 L177.2 26.6 L177.2 27.5 L179.7 28.0 L178.3 28.5 Z" fill="#f6f8f5" />
<path d="M170.4 27.8 L175.3 26.6 L175.6 23.1 L175.5 18.9 L173.5 18.7 L170.1 21.2 L170.1 23.6 L170.4 25.5 Z" fill="#f6f8f5" />
<path d="M63.6 81.6 L67.0 79.7 L69.8 79.6 L73.4 81.1 L76.9 82.9 L78.8 84.2 L74.1 84.6 L73.4 83.4 L68.4 82.0 L65.5 81.1 Z" fill="#f6f8f5" />
<path d="M79.9 84.6 L84.7 84.8 L87.0 86.6 L83.3 87.2 L78.5 87.2 Z" fill="#f6f8f5" />
<path d="M72.9 86.7 L75.8 86.9 L75.5 87.8 L73.4 87.6 Z" fill="#f6f8f5" />
<path d="M88.7 86.7 L91.0 86.9 L90.7 87.6 L88.7 87.5 Z" fill="#f6f8f5" />
<path d="M254.4 130.7 L256.0 135.1 L251.1 135.1 L252.6 132.9 Z" fill="#f6f8f5" />
<path d="M73.4 -6.0 L84.7 -1.2 L90.4 0.9 L92.6 -2.8 L93.3 -6.0 Z" fill="#f6f8f5" />
<path d="M110.3 -6.0 L115.3 3.3 L121.7 6.5 L123.7 3.3 L126.7 -6.0 Z" fill="#f6f8f5" />
<path d="M202.1 54.6 L206.5 54.6 L205.8 57.3 L202.1 55.9 Z" fill="#f6f8f5" />
<path d="M197.4 49.1 L198.2 50.4 L197.8 53.0 L196.2 53.2 L196.0 49.8 Z" fill="#f6f8f5" />
<path d="M197.7 45.6 L197.4 48.7 L196.5 46.6 Z" fill="#f6f8f5" />
<path d="M217.9 59.4 L221.6 59.8 L219.9 60.3 L217.9 60.0 Z" fill="#f6f8f5" />
<path d="M233.4 59.3 L232.7 60.3 L231.2 61.0 L230.2 60.0 L231.9 59.6 Z" fill="#f6f8f5" />
<path d="M202.1 17.2 L201.8 19.4 L199.9 18.9 L199.9 17.4 Z" fill="#f6f8f5" />
<path d="M298.1 99.5 L299.8 101.4 L300.5 104.2 L298.4 105.0 L297.7 102.1 Z" fill="#f6f8f5" />
<path d="M319.8 105.5 L325.1 109.2 L331.5 113.5 L335.1 117.8 L334.6 121.8 L329.4 119.2 L326.9 114.9 L323.7 110.7 L320.8 107.8 Z" fill="#f6f8f5" />
<path d="M334.3 122.0 L338.6 123.2 L342.2 122.8 L346.9 124.2 L346.9 125.6 L340.7 124.9 L335.8 124.2 Z" fill="#f6f8f5" />
<path d="M350.7 103.5 L353.5 106.4 L353.3 112.1 L351.4 114.9 L349.3 119.2 L345.0 118.2 L341.2 117.8 L339.3 113.5 L340.0 110.9 L342.6 109.5 L347.1 106.7 Z" fill="#f6f8f5" />
<path d="M356.1 111.7 L361.4 112.4 L359.2 114.2 L355.7 112.8 L356.4 118.5 L355.4 121.3 L353.5 117.8 L354.7 113.5 Z" fill="#f6f8f5" />
<path d="M355.8 86.7 L358.1 87.0 L357.8 93.4 L360.7 94.9 L356.4 93.8 L355.7 92.7 L355.3 90.0 Z" fill="#f6f8f5" />
<path d="M362.8 99.6 L363.8 104.2 L362.5 105.0 L357.8 102.8 L359.9 101.4 Z" fill="#f6f8f5" />
<path d="M359.2 97.0 L360.7 99.2 L358.5 99.9 L357.8 97.8 Z" fill="#f6f8f5" />
<path d="M357.1 76.4 L356.1 81.4 L355.0 79.9 L356.4 76.8 Z" fill="#f6f8f5" />
<path d="M341.5 84.5 L340.0 87.0 L338.8 86.0 L340.0 84.5 Z" fill="#f6f8f5" />
<path d="M347.9 125.2 L353.5 125.6 L350.7 126.4 L347.9 126.1 Z" fill="#f6f8f5" />
<path d="M355.0 125.3 L362.1 125.6 L360.7 127.8 L355.0 126.4 Z" fill="#f6f8f5" />
<path d="M316.1 97.0 L316.6 94.1 L315.9 96.3 Z" fill="#f6f8f5" />
<g clip-path="url(#land)"><g filter="url(#bl)" fill="#d6ecce" opacity="0.85">
<ellipse cx="64.8" cy="55.0" rx="14" ry="20" opacity="0.8"/>
<ellipse cx="77.6" cy="31.1" rx="30" ry="9" opacity="0.7"/>
<ellipse cx="35.0" cy="19.4" rx="36" ry="7" opacity="0.7"/>
<ellipse cx="10.8" cy="37.6" rx="6" ry="12" opacity="0.8"/>
<ellipse cx="53.5" cy="89.0" rx="14" ry="8" opacity="1"/>
<ellipse cx="56.3" cy="65.4" rx="12" ry="7" opacity="0.8"/>
<ellipse cx="96.1" cy="113.5" rx="40" ry="20" opacity="0.9"/>
<ellipse cx="106.1" cy="124.9" rx="40" ry="14" opacity="0.9"/>
<ellipse cx="81.9" cy="103.5" rx="10" ry="10" opacity="1"/>
<ellipse cx="195.7" cy="31.1" rx="14" ry="7" opacity="0.35"/>
<ellipse cx="241.2" cy="11.7" rx="46" ry="10" opacity="0.8"/>
<ellipse cx="298.1" cy="6.2" rx="70" ry="10" opacity="0.9"/>
<ellipse cx="347.9" cy="11.7" rx="40" ry="11" opacity="0.9"/>
<ellipse cx="219.9" cy="6.2" rx="12" ry="8" opacity="0.8"/>
<ellipse cx="201.4" cy="3.3" rx="10" ry="10" opacity="0.8"/>
<ellipse cx="362.1" cy="31.1" rx="10" ry="14" opacity="0.8"/>
<ellipse cx="212.7" cy="110.7" rx="26" ry="14" opacity="0.8"/>
<ellipse cx="177.2" cy="103.5" rx="22" ry="6" opacity="0.8"/>
<ellipse cx="224.1" cy="124.9" rx="26" ry="14" opacity="0.8"/>
<ellipse cx="238.3" cy="102.1" rx="7" ry="8" opacity="0.6"/>
<ellipse cx="235.5" cy="130.7" rx="10" ry="8" opacity="0.7"/>
<ellipse cx="293.8" cy="96.3" rx="3" ry="8" opacity="0.4"/>
<ellipse cx="323.7" cy="81.4" rx="10" ry="14" opacity="0.8"/>
<ellipse cx="330.8" cy="93.4" rx="10" ry="12" opacity="0.9"/>
<ellipse cx="345.0" cy="76.8" rx="12" ry="10" opacity="0.6"/>
<ellipse cx="329.4" cy="110.7" rx="8" ry="10" opacity="1"/>
<ellipse cx="345.0" cy="113.5" rx="12" ry="10" opacity="1"/>
<ellipse cx="364.9" cy="47.6" rx="8" ry="10" opacity="0.7"/>
<ellipse cx="356.4" cy="114.9" rx="6" ry="8" opacity="1"/>
<ellipse cx="359.2" cy="96.3" rx="6" ry="10" opacity="1"/>
<ellipse cx="332.2" cy="120.6" rx="8" ry="8" opacity="1"/>
</g>
<g filter="url(#bl)" fill="#fbfbf9">
<ellipse cx="198.5" cy="79.9" rx="50" ry="16" opacity="0.9"/>
<ellipse cx="248.3" cy="78.3" rx="16" ry="14" opacity="0.9"/>
<ellipse cx="305.2" cy="51.3" rx="40" ry="12" opacity="0.8"/>
<ellipse cx="25.0" cy="55.0" rx="18" ry="16" opacity="0.8"/>
<ellipse cx="269.6" cy="41.7" rx="20" ry="10" opacity="0.7"/>
</g>
<g fill="none" stroke="#bbb5ca" stroke-width="1" opacity="0.9">
<path d="M9.4 33.3 L49.2 33.3 L57.0 35.5"/>
<path d="M78.3 41.7 L82.6 41.7 L86.2 37.0 L87.9 37.0 L88.4 41.3"/>
<path d="M17.9 64.6 L21.2 64.2 L26.4 66.6 L30.4 66.6 L32.8 65.8 L35.7 69.6 L38.5 69.1 L42.8 72.8 L46.1 75.3"/>
<path d="M54.9 87.8 L57.4 87.8 L57.9 90.6"/>
<path d="M53.2 92.7 L57.4 91.5 L56.2 93.7"/>
<path d="M59.6 94.9 L65.5 91.9"/>
<path d="M62.4 97.6 L65.3 97.9"/>
<path d="M66.8 99.8 L66.4 102.1"/>
<path d="M82.9 96.3 L80.5 100.6 L81.9 103.5 L88.3 105.0 L89.0 111.8 L84.7 112.1 L84.7 119.5"/>
<path d="M99.0 101.4 L98.0 106.1 L93.3 111.8 L89.0 111.8"/>
<path d="M98.0 106.1 L100.4 111.4 L104.7 110.7 L106.8 110.2 L110.9 107.4"/>
<path d="M102.8 105.0 L104.7 110.7"/>
<path d="M107.5 105.2 L106.8 110.2"/>
<path d="M72.2 112.1 L77.2 113.5 L79.8 117.1 L84.7 119.5 L79.3 123.9 L84.0 129.2 L85.5 135.1"/>
<path d="M70.1 118.3 L71.9 120.6 L79.8 117.1"/>
<path d="M84.0 129.2 L91.4 127.8 L93.3 131.4 L98.5 135.1"/>
<path d="M181.2 58.9 L182.6 65.4 L171.9 69.6 L171.9 72.5 L165.8 72.5"/>
<path d="M171.9 73.1 L167.2 76.8 L165.8 82.5 L160.1 82.5"/>
<path d="M171.9 73.1 L189.0 86.0 L192.8 85.2 L201.4 79.1"/>
<path d="M196.4 56.8 L195.3 63.7 L197.8 68.4 L201.4 79.1 L205.6 79.9 L218.4 85.2 L219.9 81.4 L236.8 81.4"/>
<path d="M200.7 63.4 L197.8 68.4"/>
<path d="M220.0 66.1 L219.9 81.4"/>
<path d="M167.2 76.8 L171.9 75.2"/>
<path d="M161.0 89.7 L168.7 91.2 L176.5 91.3 L177.5 76.8"/>
<path d="M176.5 91.3 L184.3 91.9 L190.3 89.7 L189.0 86.0"/>
<path d="M184.3 91.9 L185.4 97.8 L189.4 96.7 L202.8 93.8 L204.9 94.9"/>
<path d="M205.6 79.9 L217.7 90.9 L215.6 95.3 L217.0 97.8 L211.3 102.1 L206.3 102.8 L206.1 99.2 L204.9 94.9"/>
<path d="M217.7 90.9 L218.4 84.5"/>
<path d="M215.6 95.3 L216.9 91.9"/>
<path d="M185.4 97.8 L186.0 104.7"/>
<path d="M189.4 96.7 L188.1 104.4"/>
<path d="M202.8 93.8 L203.5 97.0 L200.7 103.5 L196.8 107.1"/>
<path d="M180.3 97.8 L180.0 106.2"/>
<path d="M172.9 99.2 L173.6 107.2"/>
<path d="M168.1 95.9 L169.7 101.4 L168.1 103.5"/>
<path d="M160.5 95.7 L168.1 95.9 L168.7 91.2"/>
<path d="M165.1 99.2 L169.7 101.4"/>
<path d="M206.3 102.8 L207.1 110.4 L210.8 108.5 L211.3 106.4 L216.3 107.4 L223.3 106.4 L218.7 102.1 L217.0 97.8"/>
<path d="M207.1 110.4 L200.4 110.2 L200.4 112.1 L198.2 112.1"/>
<path d="M203.2 110.4 L207.1 110.4"/>
<path d="M210.8 108.5 L209.6 114.9 L204.9 120.3 L201.7 120.6"/>
<path d="M201.8 121.9 L207.9 121.8 L211.7 124.9 L213.5 123.5 L216.0 129.2 L218.4 132.1 L226.7 132.1 L228.1 125.3"/>
<path d="M218.4 132.1 L215.6 135.1"/>
<path d="M223.3 106.4 L228.4 108.5 L232.7 107.5 L235.4 108.5 L235.5 107.0 L242.6 107.8 L243.5 115.9"/>
<path d="M236.8 81.4 L236.2 91.9 L232.7 95.6 L232.8 99.9 L231.2 102.1 L232.7 107.5"/>
<path d="M232.8 99.9 L224.1 99.5 L223.3 106.4"/>
<path d="M236.2 91.9 L238.2 92.7 L244.6 95.6"/>
<path d="M245.5 97.8 L248.3 99.2 L251.1 102.1 L252.6 102.1 L248.3 106.4 L242.6 107.8"/>
<path d="M232.7 107.5 L232.7 112.1 L232.5 114.9 L240.1 120.2"/>
<path d="M227.7 114.9 L232.5 114.9"/>
<path d="M227.0 111.8 L228.4 108.5"/>
<path d="M226.4 119.8 L225.5 116.9 L227.7 114.9"/>
<path d="M233.9 130.1 L241.8 130.0"/>
<path d="M188.7 46.8 L181.7 45.0"/>
<path d="M171.8 47.6 L175.1 47.6 L174.3 53.2 L173.8 56.4"/>
<path d="M187.9 28.9 L192.5 32.2 L196.0 33.3 L195.0 36.3 L193.0 39.2 L195.1 43.7 L195.0 44.1"/>
<path d="M194.5 23.8 L192.8 27.1 L192.8 29.4 L192.5 32.2"/>
<path d="M196.5 19.7 L198.4 19.9"/>
<path d="M204.5 22.1 L205.6 28.9 L201.7 30.5 L203.9 33.8 L202.8 36.5 L198.0 36.3 L195.0 36.3"/>
<path d="M198.0 36.3 L199.2 38.6 L201.9 38.2 L203.8 38.6 L203.9 40.5"/>
<path d="M203.9 33.8 L208.5 33.8 L208.6 35.9 L207.2 37.8 L203.8 38.6"/>
<path d="M205.6 28.9 L211.0 32.2 L216.3 32.5 L216.7 35.3 L208.6 35.9"/>
<path d="M212.3 20.9 L216.7 21.2 L217.9 26.6 L218.4 30.3 L216.3 32.5"/>
<path d="M214.2 16.9 L219.6 15.9 L222.1 17.7 L220.6 22.1 L216.7 21.2"/>
<path d="M219.0 12.0 L223.3 13.0 L222.1 17.7"/>
<path d="M224.3 7.9 L223.3 13.0 L224.4 16.9 L228.2 17.7 L229.0 24.3 L217.9 27.8"/>
<path d="M229.5 25.9 L232.7 25.9 L234.8 31.1 L241.2 31.1 L240.9 35.9 L238.6 37.4"/>
<path d="M216.7 35.3 L222.1 35.5 L224.4 40.7 L226.5 41.3"/>
<path d="M227.1 38.6 L223.7 34.6"/>
<path d="M213.2 39.4 L216.7 35.3"/>
<path d="M213.2 39.4 L214.9 42.3 L216.2 44.3 L224.8 44.3"/>
<path d="M207.2 37.8 L211.0 39.9 L213.2 39.4"/>
<path d="M203.6 40.7 L206.1 40.9 L207.8 38.8"/>
<path d="M206.8 41.3 L211.3 41.3 L211.5 41.9 L210.6 46.6"/>
<path d="M214.9 42.3 L216.2 47.0 L216.7 48.9 L213.7 49.5 L212.7 51.9 L211.9 47.6"/>
<path d="M216.7 48.9 L221.8 48.1 L224.1 47.6"/>
<path d="M221.8 48.1 L221.4 50.0"/>
<path d="M223.8 4.8 L229.1 -2.5 L227.0 -6.0"/>
<path d="M201.4 -1.2 L203.5 -6.0"/>
<path d="M200.7 9.0 L202.2 3.3 L201.4 -1.2"/>
<path d="M235.8 57.1 L244.6 56.6 L247.6 51.9 L243.5 48.5"/>
<path d="M244.6 56.6 L239.5 63.1 L236.6 64.9 L234.1 69.6"/>
<path d="M234.9 63.2 L239.5 63.1"/>
<path d="M236.6 64.9 L236.9 66.3 L235.6 70.0 L241.2 68.9 L239.8 65.4 L250.4 70.2 L252.1 70.4"/>
<path d="M239.5 63.1 L239.8 65.4"/>
<path d="M244.6 56.6 L248.0 56.4 L248.9 58.6 L249.9 63.7 L253.3 68.7"/>
<path d="M247.6 51.9 L252.4 52.3 L253.8 54.3"/>
<path d="M246.2 49.1 L250.4 49.1 L253.1 47.8"/>
<path d="M241.2 44.7 L246.9 46.4 L250.3 47.8"/>
<path d="M257.7 78.2 L262.8 80.3 L262.5 84.5 L258.3 86.0 L251.1 89.1 L245.9 88.4 L245.2 89.9"/>
<path d="M263.7 78.0 L262.8 80.3"/>
<path d="M259.8 89.6 L258.3 86.0"/>
<path d="M264.8 77.9 L262.9 80.2"/>
<path d="M261.0 56.1 L268.6 56.3 L271.3 59.3 L272.2 67.1 L270.9 69.1 L274.3 73.6 L271.9 76.4"/>
<path d="M271.3 59.3 L277.7 55.9 L286.0 56.1 L290.4 57.0"/>
<path d="M270.9 69.1 L275.7 69.7 L282.9 65.8 L285.3 62.0 L290.4 57.0"/>
<path d="M259.0 47.9 L261.1 47.0 L263.2 49.1 L268.2 45.8 L267.6 40.7"/>
<path d="M286.0 56.1 L289.3 52.3 L285.0 50.6 L286.0 49.1 L285.3 46.0 L289.5 45.0 L298.4 47.0"/>
<path d="M253.3 38.2 L251.1 28.9 L257.8 29.6 L271.1 27.3 L271.5 21.9 L282.4 20.9 L298.1 29.4 L308.5 32.9"/>
<path d="M298.4 47.0 L301.6 41.7 L302.3 37.2 L308.5 32.9"/>
<path d="M290.4 57.0 L295.2 59.4 L297.1 64.6 L299.8 68.2 L310.6 72.8 L315.1 72.0 L320.8 69.9 L322.7 71.7"/>
<path d="M290.4 57.0 L290.5 64.1 L288.8 68.7 L284.7 72.2 L285.3 77.9 L281.3 78.6"/>
<path d="M299.8 68.2 L298.2 70.7 L309.5 74.5 L310.6 72.8"/>
<path d="M309.5 74.5 L312.0 74.7 L312.0 76.4 L315.6 76.4 L314.0 78.8 L315.6 79.9 L315.6 82.5"/>
<path d="M312.0 74.7 L315.3 73.9 L315.1 72.0"/>
<path d="M322.7 71.7 L323.3 78.3 L328.2 82.6 L326.7 84.0 L323.3 87.5 L325.4 93.4 L324.7 99.2"/>
<path d="M328.2 82.6 L329.5 80.8 L336.1 80.3 L337.9 82.2"/>
<path d="M329.5 80.8 L332.2 86.0 L336.3 89.0 L337.2 92.7 L335.3 97.8 L332.9 98.6"/>
<path d="M326.7 84.0 L330.2 87.6 L334.3 90.4 L333.9 92.9 L330.2 92.9 L330.6 96.7"/>
<path d="M326.7 104.2 L329.1 105.1 L329.5 104.7"/>
<path d="M351.7 107.4 L348.7 107.4 L347.4 111.4 L340.7 112.2 L340.2 110.7"/>
<path d="M308.5 32.9 L315.1 29.4 L323.7 31.1 L325.0 26.6 L329.8 30.5 L337.9 32.5 L347.1 31.1 L350.7 31.8 L356.2 23.6 L362.9 24.3 L370.6 35.5"/>
<path d="M308.5 32.9 L313.4 41.7 L321.5 46.4 L333.6 46.2 L333.6 48.3 L343.6 41.7 L354.7 38.2 L350.7 31.8"/>
<path d="M366.8 47.9 L361.1 51.5"/>
<path d="M364.5 54.5 L366.9 53.9"/>
<path d="M370.0 46.8 L371.0 45.6"/>
</g></g>
<path d="M225.4 49.5 L224.1 48.5 L223.6 46.6 L224.8 44.7 L226.5 41.7 L228.1 38.6 L231.2 39.7 L230.8 41.1 L232.2 42.9 L234.8 41.7 L236.4 41.1 L238.1 42.5 L240.9 44.7 L243.5 47.2 L243.3 48.5 L240.5 49.5 L237.6 49.5 L234.8 48.1 L234.1 47.6 L230.5 48.1 L228.4 49.3 L226.3 49.1 Z" fill="#8ec4f9" />
<path d="M234.1 40.9 L234.1 39.2 L237.6 37.6 L240.1 37.2 L238.3 39.7 L236.9 41.1 Z" fill="#8ec4f9" />
<path d="M256.8 37.6 L254.0 38.6 L251.9 41.7 L251.9 45.6 L253.4 47.9 L255.0 50.8 L254.0 53.2 L254.7 55.9 L257.5 57.3 L261.0 57.1 L260.8 55.0 L259.7 51.3 L259.7 49.5 L259.1 47.9 L259.0 46.6 L255.8 42.7 L257.3 41.7 L259.7 41.3 L259.7 38.2 Z" fill="#8ec4f9" />
<path d="M268.2 38.6 L271.1 39.7 L268.9 42.7 L267.2 43.7 L267.5 40.7 Z" fill="#8ec4f9" />
<path d="M332.2 27.8 L336.5 24.3 L340.3 17.7 L339.3 18.2 L335.1 24.3 L331.8 27.3 Z" fill="#8ec4f9" />
<path d="M229.8 112.8 L232.7 114.9 L231.2 117.1 L229.5 117.1 L229.4 114.9 Z" fill="#8ec4f9" />
<path d="M225.8 118.5 L226.3 122.0 L228.1 125.6 L226.8 122.0 Z" fill="#8ec4f9" />
<path d="M232.7 127.1 L233.5 130.7 L234.1 133.6 L232.9 130.0 Z" fill="#8ec4f9" />
<path d="M227.0 3.3 L229.8 1.2 L230.9 4.8 L228.8 6.5 Z" fill="#8ec4f9" />
<path d="M234.1 0.3 L235.9 3.3 L235.5 -0.3 Z" fill="#8ec4f9" />
<path d="M289.5 38.6 L295.2 38.0 L295.9 40.7 L290.3 41.7 Z" fill="#8ec4f9" />
<path d="M222.7 49.7 L226.3 49.7 L225.5 50.6 L223.0 50.6 Z" fill="#8ec4f9" />
<path d="M204.2 94.1 L205.3 94.9 L204.5 95.3 Z" fill="#8ec4f9" />
<path d="M248.7 53.5 L249.4 56.3 L248.4 55.4 Z" fill="#8ec4f9" />
<path d="M244.9 53.4 L246.2 54.3 L244.6 54.3 Z" fill="#8ec4f9" />
<path d="M332.2 94.6 L332.9 95.4 L331.9 95.1 Z" fill="#8ec4f9" />
<path d="M53.5 38.2 L57.0 35.9 L59.1 33.8 L63.4 35.9 L64.1 38.6 L59.9 38.6 Z" fill="#8ec4f9" />
<path d="M62.7 39.7 L59.9 41.7 L59.6 47.6 L60.6 48.1 L61.6 44.7 L63.4 40.3 Z" fill="#8ec4f9" />
<path d="M64.8 39.7 L69.1 40.7 L68.1 45.6 L66.3 44.7 L65.8 41.7 Z" fill="#8ec4f9" />
<path d="M65.8 48.5 L71.9 46.0 L72.1 45.8 L70.5 47.2 L67.0 48.7 Z" fill="#8ec4f9" />
<path d="M70.9 45.0 L75.5 43.7 L75.5 45.0 L71.9 45.2 Z" fill="#8ec4f9" />
<path d="M43.8 22.4 L46.1 26.6 L46.6 30.0 L44.5 26.6 Z" fill="#8ec4f9" />
<path d="M19.3 -1.2 L22.2 3.3 L17.9 2.4 Z" fill="#8ec4f9" />
<path d="M25.7 8.2 L29.3 9.8 L30.7 9.0 Z" fill="#8ec4f9" />
</g>
<g filter="url(#bs)" opacity="0.9">
<text x="-23.4" y="37.3" font-family="Liberation Sans, sans-serif" font-size="17.2" fill="#f28f8f" textLength="135.0" lengthAdjust="spacingAndGlyphs">NORTH AMERICA</text>
<text x="171.8" y="41.1" font-family="Liberation Sans, sans-serif" font-size="17.2" fill="#f28f8f" textLength="67.4" lengthAdjust="spacingAndGlyphs">EUROPE</text>
<text x="291.9" y="45.4" font-family="Liberation Sans, sans-serif" font-size="17.2" fill="#f28f8f" textLength="37.4" lengthAdjust="spacingAndGlyphs">ASIA</text>
<text x="188.2" y="113.6" font-family="Liberation Sans, sans-serif" font-size="17.2" fill="#f28f8f" textLength="58.5" lengthAdjust="spacingAndGlyphs">AFRICA</text>
<text x="34.0" y="142.0" font-family="Liberation Sans, sans-serif" font-size="17.2" fill="#f28f8f" textLength="137.0" lengthAdjust="spacingAndGlyphs">SOUTH AMERICA</text>
<text x="103.3" y="65.0" font-family="Liberation Sans, sans-serif" font-size="10.5" fill="#6c9fdd" textLength="37.4" lengthAdjust="spacing" font-style="italic">North</text>
<text x="72.2" y="79.2" font-family="Liberation Sans, sans-serif" font-size="10.5" fill="#6c9fdd" textLength="99.6" lengthAdjust="spacing" font-style="italic">Atlantic Ocean</text>
<text x="247.3" y="133.8" font-family="Liberation Sans, sans-serif" font-size="10.5" fill="#6c9fdd" textLength="87.7" lengthAdjust="spacing" font-style="italic">Indian Ocean</text>
</g>
<rect x="2.6" y="2.2" width="18" height="18" rx="2" fill="#7d8c7f" opacity="0.85"/><path d="M7.6 11.2H15.6M11.6 7.2V15.2" stroke="#fff" stroke-width="1.9"/>
<rect x="2.6" y="22.4" width="18" height="18" rx="2" fill="#7d8c7f" opacity="0.85"/><path d="M8 31.4H15.2" stroke="#fff" stroke-width="1.7"/>
</svg>
<div class="abs" style="left:939px;top:359.5px;width:365.5px;height:500px;background:#fff;box-shadow:0 0 4px rgba(0,0,0,.17)"></div>
<svg class="abs" style="left:939px;top:358px" width="367" height="483" viewBox="939 358 367 483" font-family="Liberation Sans, sans-serif">
<path d="M1003.6 378.2H1231.6" stroke="#dedede" stroke-width="1.2"/>
<path d="M1022.6 377.6V468.2" stroke="#dedede" stroke-width="1.2"/>
<path d="M1079.7 377.6V468.2" stroke="#dedede" stroke-width="1.2"/>
<path d="M1137.2 377.6V468.2" stroke="#dedede" stroke-width="1.2"/>
<path d="M1194.3 377.6V468.2" stroke="#dedede" stroke-width="1.2"/>
<path d="M1003.6 464.7H1231.6" stroke="#dedede" stroke-width="1.2"/>
<path d="M999.8 464.7H1003.6" stroke="#8a8a8a" stroke-width="1"/>
<text x="994.7" y="467.6" font-size="8.2" fill="#555" text-anchor="end" textLength="10.4" lengthAdjust="spacingAndGlyphs">0,0</text>
<path d="M1003.6 450.9H1231.6" stroke="#dedede" stroke-width="1.2"/>
<path d="M999.8 450.9H1003.6" stroke="#8a8a8a" stroke-width="1"/>
<text x="994.7" y="453.8" font-size="8.2" fill="#555" text-anchor="end" textLength="10.4" lengthAdjust="spacingAndGlyphs">5,0</text>
<path d="M1003.6 437.0H1231.6" stroke="#dedede" stroke-width="1.2"/>
<path d="M999.8 437.0H1003.6" stroke="#8a8a8a" stroke-width="1"/>
<text x="994.7" y="439.9" font-size="8.2" fill="#555" text-anchor="end" textLength="15.3" lengthAdjust="spacingAndGlyphs">10,0</text>
<path d="M1003.6 423.2H1231.6" stroke="#dedede" stroke-width="1.2"/>
<path d="M999.8 423.2H1003.6" stroke="#8a8a8a" stroke-width="1"/>
<text x="994.7" y="426.1" font-size="8.2" fill="#555" text-anchor="end" textLength="15.3" lengthAdjust="spacingAndGlyphs">15,0</text>
<path d="M1003.6 409.4H1231.6" stroke="#dedede" stroke-width="1.2"/>
<path d="M999.8 409.4H1003.6" stroke="#8a8a8a" stroke-width="1"/>
<text x="994.7" y="412.3" font-size="8.2" fill="#555" text-anchor="end" textLength="15.3" lengthAdjust="spacingAndGlyphs">20,0</text>
<path d="M1003.6 395.5H1231.6" stroke="#dedede" stroke-width="1.2"/>
<path d="M999.8 395.5H1003.6" stroke="#8a8a8a" stroke-width="1"/>
<text x="994.7" y="398.4" font-size="8.2" fill="#555" text-anchor="end" textLength="15.3" lengthAdjust="spacingAndGlyphs">25,0</text>
<path d="M1003.6 381.7H1231.6" stroke="#dedede" stroke-width="1.2"/>
<path d="M999.8 381.7H1003.6" stroke="#8a8a8a" stroke-width="1"/>
<text x="994.7" y="384.6" font-size="8.2" fill="#555" text-anchor="end" textLength="15.3" lengthAdjust="spacingAndGlyphs">30,0</text>
<path d="M1231.6 464.7H1234.8" stroke="#e2001a" stroke-width="1"/>
<text x="1239.2" y="467.6" font-size="8.2" fill="#555" text-anchor="start" textLength="11.6" lengthAdjust="spacingAndGlyphs">0,0</text>
<path d="M1231.6 452.9H1234.8" stroke="#e2001a" stroke-width="1"/>
<text x="1239.2" y="455.8" font-size="8.2" fill="#555" text-anchor="start" textLength="11.6" lengthAdjust="spacingAndGlyphs">2,0</text>
<path d="M1231.6 441.0H1234.8" stroke="#e2001a" stroke-width="1"/>
<text x="1239.2" y="443.9" font-size="8.2" fill="#555" text-anchor="start" textLength="11.6" lengthAdjust="spacingAndGlyphs">4,0</text>
<path d="M1231.6 429.2H1234.8" stroke="#e2001a" stroke-width="1"/>
<text x="1239.2" y="432.1" font-size="8.2" fill="#555" text-anchor="start" textLength="11.6" lengthAdjust="spacingAndGlyphs">6,0</text>
<path d="M1231.6 417.3H1234.8" stroke="#e2001a" stroke-width="1"/>
<text x="1239.2" y="420.2" font-size="8.2" fill="#555" text-anchor="start" textLength="11.6" lengthAdjust="spacingAndGlyphs">8,0</text>
<path d="M1231.6 405.5H1234.8" stroke="#e2001a" stroke-width="1"/>
<text x="1239.2" y="408.4" font-size="8.2" fill="#555" text-anchor="start" textLength="15.7" lengthAdjust="spacingAndGlyphs">10,0</text>
<path d="M1231.6 393.7H1234.8" stroke="#e2001a" stroke-width="1"/>
<text x="1239.2" y="396.6" font-size="8.2" fill="#555" text-anchor="start" textLength="15.7" lengthAdjust="spacingAndGlyphs">12,0</text>
<path d="M1231.6 381.8H1234.8" stroke="#e2001a" stroke-width="1"/>
<text x="1239.2" y="384.7" font-size="8.2" fill="#555" text-anchor="start" textLength="15.7" lengthAdjust="spacingAndGlyphs">14,0</text>
<text x="973.6" y="422.8" font-size="8.5" fill="#555" text-anchor="middle" transform="rotate(-90 973.6 422.8)">%</text>
<text x="1271.2" y="422.4" font-size="8.5" fill="#555" text-anchor="middle" transform="rotate(-90 1271.2 422.4)">#</text>
<path d="M1003.6 464.7H1231.6" stroke="#55aca6" stroke-width="1.4"/>
<circle cx="1004.8" cy="464.7" r="2" fill="#55aca6"/>
<circle cx="1230.0" cy="464.7" r="2" fill="#55aca6"/>
<path d="M1004.1 457.1 L1005.4 457.3 L1006.7 457.8 L1008.0 457.2 L1009.3 457.2 L1010.6 457.3 L1011.9 456.8 L1013.2 457.2 L1014.5 457.4 L1015.8 457.6 L1017.1 456.6 L1018.4 456.9 L1019.7 456.6 L1021.0 457.6 L1022.3 457.5 L1023.6 456.6 L1024.9 457.9 L1026.2 457.9 L1027.5 457.4 L1028.8 457.4 L1030.1 456.7 L1031.4 456.5 L1032.7 457.2 L1034.0 456.6 L1035.3 456.8 L1036.6 456.8 L1037.9 456.5 L1039.2 457.1 L1040.5 458.6 L1041.8 459.2 L1043.1 457.2 L1044.4 457.4 L1045.7 457.2 L1047.0 457.4 L1048.3 457.1 L1049.6 456.9 L1050.9 457.9 L1052.2 457.9 L1053.5 457.7 L1054.8 457.5 L1056.1 456.9 L1057.4 456.8 L1058.7 456.9 L1060.0 456.6 L1061.3 457.6 L1062.6 457.1 L1063.9 457.7 L1065.2 457.0 L1066.5 457.8 L1067.8 457.7 L1069.1 456.5 L1070.4 452.8 L1071.7 457.8 L1073.0 457.2 L1074.3 457.9 L1075.6 457.1 L1076.9 456.6 L1078.2 457.4 L1079.5 457.6 L1080.8 456.9 L1082.1 456.6 L1083.4 457.0 L1084.7 457.8 L1086.0 457.6 L1087.3 456.7 L1088.6 456.8 L1089.9 456.6 L1091.2 456.6 L1092.5 457.6 L1093.8 456.7 L1095.1 457.3 L1096.4 457.1 L1097.7 456.8 L1099.0 457.5 L1100.3 456.7 L1101.6 457.4 L1102.9 456.7 L1104.2 457.1 L1105.5 456.8 L1106.8 456.9 L1108.1 457.9 L1109.4 457.6 L1110.7 456.9 L1112.0 457.7 L1113.3 456.8 L1114.6 457.1 L1115.9 457.7 L1117.2 457.4 L1118.5 456.6 L1119.8 457.9 L1121.1 456.8 L1122.4 456.9 L1123.7 457.6 L1125.0 457.0 L1126.3 456.9 L1127.6 456.6 L1128.9 456.6 L1130.2 457.3 L1131.5 456.8 L1132.8 457.3 L1134.1 457.0 L1135.4 457.1 L1136.7 457.8 L1138.0 457.2 L1139.3 457.3 L1140.6 457.7 L1141.9 456.8 L1143.2 456.7 L1144.5 457.8 L1145.8 457.6 L1147.1 456.8 L1148.4 456.8 L1149.7 457.5 L1151.0 457.8 L1152.3 456.8 L1153.6 457.8 L1154.9 457.7 L1156.2 457.3 L1157.5 457.1 L1158.8 456.6 L1160.1 453.6 L1161.4 457.8 L1162.7 456.8 L1164.0 457.5 L1165.3 456.9 L1166.6 457.7 L1167.9 457.3 L1169.2 456.9 L1170.5 456.7 L1171.8 457.5 L1173.1 456.6 L1174.4 456.8 L1175.7 457.3 L1177.0 457.7 L1178.3 457.4 L1179.6 456.9 L1180.9 457.8 L1182.2 456.8 L1183.5 452.5 L1184.8 456.9 L1186.1 457.1 L1187.4 456.6 L1188.7 456.7 L1190.0 457.0 L1191.3 457.3 L1192.6 456.7 L1193.9 457.0 L1195.2 457.7 L1196.5 457.9 L1197.8 457.4 L1199.1 457.5 L1200.4 457.3 L1201.7 456.7 L1203.0 456.5 L1204.3 456.5 L1205.6 457.8 L1206.9 457.5 L1208.2 457.8 L1209.5 456.5 L1210.8 457.4 L1212.1 457.2 L1213.4 457.5 L1214.7 456.9 L1216.0 457.9 L1217.3 456.6 L1218.6 457.3 L1219.9 457.5 L1221.2 457.8 L1222.5 457.5 L1223.8 457.5 L1225.1 457.6 L1226.4 457.8 L1227.7 457.0 L1229.0 457.5 L1230.3 457.8 L1231.6 457.7" fill="none" stroke="#ee6aa7" stroke-width="1" stroke-linejoin="round" opacity="1"/>
<path d="M1092.0 457.0 L1092.6 455.0 L1093.6 440.0 L1094.8 421.3 L1095.6 440.0 L1096.6 457.0" fill="none" stroke="#ee6aa7" stroke-width="1.2" stroke-linejoin="round" opacity="1"/>
<path d="M1190.6 457.0 L1191.0 420.0 L1191.7 386.5 L1192.6 386.5 L1193.2 430.0 L1193.6 457.0" fill="none" stroke="#ee6aa7" stroke-width="1.6" stroke-linejoin="round" opacity="0.8"/>
<path d="M1206.0 457.0 L1207.0 450.0 L1208.4 434.3 L1209.4 448.0 L1210.4 457.0" fill="none" stroke="#ee6aa7" stroke-width="1.2" stroke-linejoin="round" opacity="1"/>
<circle cx="1192.1" cy="386.3" r="2.3" fill="#ee6aa7"/>
<path d="M1004.1 443.6 L1005.0 444.6 L1005.9 444.7 L1006.8 444.0 L1007.7 444.1 L1008.6 443.5 L1009.5 444.0 L1010.4 444.1 L1011.3 442.7 L1012.2 444.2 L1013.1 445.1 L1014.0 444.8 L1014.9 444.4 L1015.8 443.5 L1016.7 444.4 L1017.6 444.0 L1018.5 443.6 L1019.4 444.7 L1020.3 442.7 L1021.2 444.5 L1022.1 442.6 L1023.0 444.1 L1023.9 443.8 L1024.8 443.1 L1025.7 444.3 L1026.6 443.8 L1027.5 444.1 L1028.4 444.9 L1029.3 443.2 L1030.2 442.5 L1031.1 443.3 L1032.0 444.3 L1032.9 443.0 L1033.8 442.9 L1034.7 444.9 L1035.6 444.2 L1036.5 443.6 L1037.4 444.8 L1038.3 443.4 L1039.2 444.2 L1040.1 443.0 L1041.0 443.6 L1041.9 444.6 L1042.8 444.9 L1043.7 444.8 L1044.6 443.5 L1045.5 444.0 L1046.4 443.3 L1047.3 442.9 L1048.2 443.8 L1049.1 444.7 L1050.0 444.7 L1050.9 444.3 L1051.8 445.0 L1052.7 443.2 L1053.6 442.9 L1054.5 443.7 L1055.4 443.2 L1056.3 443.1 L1057.2 443.6 L1058.1 444.1 L1059.0 443.8 L1059.9 443.3 L1060.8 444.7 L1061.7 445.1 L1062.6 443.7 L1063.5 442.7 L1064.4 442.6 L1065.3 444.8 L1066.2 442.6 L1067.1 444.3 L1068.0 444.0 L1068.9 443.3 L1069.8 444.6 L1070.7 442.5 L1071.6 442.9 L1072.5 443.7 L1073.4 442.6 L1074.3 444.7 L1075.2 443.1 L1076.1 442.9 L1077.0 442.6 L1077.9 444.1 L1078.8 443.7 L1079.7 444.1 L1080.6 444.2 L1081.5 444.6 L1082.4 445.0 L1083.3 444.3 L1084.2 443.0 L1085.1 443.7 L1086.0 443.0 L1086.9 442.5 L1087.8 443.7 L1088.6 446.0 L1089.2 464.5 L1090.0 464.5 L1090.6 447.0 L1091.2 439.4 L1091.9 444.0 L1092.3 444.3 L1093.2 443.9 L1094.1 444.1 L1095.0 444.5 L1095.9 443.5 L1096.8 444.6 L1097.7 444.9 L1098.6 442.7 L1099.5 444.9 L1100.4 444.4 L1101.3 442.8 L1102.2 443.7 L1103.1 444.1 L1104.0 444.9 L1104.9 443.5 L1105.8 444.0 L1106.7 444.8 L1107.6 444.6 L1108.5 445.0 L1109.4 443.7 L1110.3 444.2 L1111.2 443.0 L1112.1 444.4 L1113.0 444.6 L1113.9 444.2 L1114.8 444.4 L1115.7 443.1 L1116.6 444.8 L1117.5 445.0 L1118.4 445.0 L1119.3 443.9 L1120.2 444.6 L1121.1 443.3 L1122.0 444.9 L1122.9 444.7 L1123.8 443.4 L1124.7 442.7 L1125.6 443.6 L1126.5 443.9 L1127.4 444.5 L1128.3 443.8 L1129.2 442.6 L1130.1 444.6 L1131.0 442.7 L1131.9 444.6 L1132.8 442.9 L1133.7 443.4 L1134.6 444.5 L1135.5 442.9 L1136.4 442.9 L1137.3 443.8 L1138.2 444.4 L1139.1 444.7 L1140.0 444.3 L1140.9 445.0 L1141.8 443.8 L1142.7 445.0 L1143.6 442.7 L1144.5 443.1 L1145.4 443.9 L1146.3 443.3 L1147.2 444.4 L1148.1 444.2 L1149.0 443.9 L1149.9 444.7 L1150.8 444.0 L1151.7 443.3 L1152.6 443.5 L1153.5 444.7 L1154.4 444.8 L1155.3 443.0 L1156.2 444.7 L1157.1 445.0 L1158.0 443.9 L1158.9 444.0 L1159.8 443.0 L1160.7 443.9 L1161.6 443.8 L1162.5 444.1 L1163.4 442.6 L1164.3 445.0 L1165.2 443.8 L1166.1 443.5 L1167.0 444.6 L1167.9 444.0 L1168.8 443.8 L1169.7 444.3 L1170.6 442.7 L1171.5 443.9 L1172.4 443.6 L1173.3 445.0 L1174.2 444.9 L1175.1 443.2 L1176.0 443.7 L1176.9 442.8 L1177.8 443.6 L1178.7 444.6 L1179.6 444.8 L1180.5 443.7 L1181.4 443.3 L1182.3 443.0 L1183.2 444.1 L1184.1 444.9 L1185.0 442.8 L1185.9 444.5 L1186.8 442.6 L1187.7 443.0 L1188.6 443.1 L1189.5 444.3 L1190.4 443.3 L1191.3 443.4 L1192.2 444.1 L1193.1 442.8 L1194.0 444.4 L1194.9 442.8 L1195.8 443.8 L1196.7 443.2 L1197.6 443.0 L1198.5 443.9 L1199.4 443.6 L1200.3 443.5 L1201.2 443.6 L1202.1 443.9 L1203.2 446.0 L1203.8 464.5 L1204.6 464.5 L1205.2 446.0 L1205.7 444.2 L1206.6 443.9 L1207.5 444.7 L1208.4 444.1 L1209.3 444.7 L1210.2 443.1 L1211.1 444.4 L1212.0 444.6 L1212.9 444.8 L1213.8 443.3 L1214.7 443.3 L1215.6 444.9 L1216.5 443.1 L1217.4 445.1 L1218.3 444.8 L1219.2 442.8 L1220.1 443.1 L1221.0 444.4 L1221.9 443.2 L1222.8 442.8 L1223.7 444.7 L1224.6 443.6 L1225.5 444.6 L1226.4 442.8 L1227.3 443.5 L1228.2 444.3 L1229.1 442.5 L1230.0 443.0 L1230.8 443.0 L1231.1 452.0" fill="none" stroke="#1b2b5e" stroke-width="1" stroke-linejoin="round" opacity="1"/>
<circle cx="1090.8" cy="439.6" r="2.1" fill="#1b2b5e"/>
<circle cx="1089.5" cy="464.7" r="2.3" fill="#1b2b5e"/>
<path d="M1003.6 399.6 L1040.0 399.6 L1040.9 388.8 L1041.8 399.6 L1064.4 399.6 L1065.3 393.7 L1066.2 399.6 L1087.8 399.6 L1088.4 464.0 L1089.6 464.0 L1090.6 399.6 L1154.8 399.6 L1155.8 387.4 L1156.4 387.4 L1157.4 399.6 L1202.6 399.6 L1203.4 464.0 L1204.4 464.0 L1205.4 405.5 L1217.2 405.5 L1218.2 399.6 L1219.2 405.5 L1230.8 405.5 L1231.1 412.0" fill="none" stroke="#e2001a" stroke-width="1" stroke-linejoin="round" opacity="1"/>
<circle cx="1156.1" cy="387.1" r="2.3" fill="#e2001a"/>
<text x="1067.5" y="434.5" font-size="8.2" fill="#666" text-anchor="start" textLength="48.0" lengthAdjust="spacingAndGlyphs">Max: 9,07 %</text>
<text x="1067.5" y="459.6" font-size="8.2" fill="#666" text-anchor="start" textLength="46.5" lengthAdjust="spacingAndGlyphs">Min: 0,00 %</text>
<text x="1011.5" y="397.3" font-family="Liberation Sans, sans-serif" font-size="19.4" fill="#5a5a5a" textLength="54.6" lengthAdjust="spacingAndGlyphs">2 days</text>
<path d="M1003.6 377.6V468.8" stroke="#2a2a2a" stroke-width="1.4"/>
<path d="M1002.9 468.2H1231.6" stroke="#2a2a2a" stroke-width="1.4"/>
<path d="M1231.6 376.6V468.8" stroke="#e2001a" stroke-width="1.4"/>
<path d="M1022.6 468.2V471.4" stroke="#2a2a2a"/>
<text x="1019.9" y="474.6" font-size="8.2" fill="#555" text-anchor="end" transform="rotate(-90 1019.9 474.6)" textLength="20.6" lengthAdjust="spacingAndGlyphs">04/10</text>
<text x="1033.0" y="474.6" font-size="8.2" fill="#555" text-anchor="end" transform="rotate(-90 1033.0 474.6)" textLength="20.6" lengthAdjust="spacingAndGlyphs">00:00</text>
<path d="M1079.7 468.2V471.4" stroke="#2a2a2a"/>
<text x="1077.0" y="474.6" font-size="8.2" fill="#555" text-anchor="end" transform="rotate(-90 1077.0 474.6)" textLength="20.6" lengthAdjust="spacingAndGlyphs">04/10</text>
<text x="1090.1" y="474.6" font-size="8.2" fill="#555" text-anchor="end" transform="rotate(-90 1090.1 474.6)" textLength="20.6" lengthAdjust="spacingAndGlyphs">12:00</text>
<path d="M1137.2 468.2V471.4" stroke="#2a2a2a"/>
<text x="1134.5" y="474.6" font-size="8.2" fill="#555" text-anchor="end" transform="rotate(-90 1134.5 474.6)" textLength="20.6" lengthAdjust="spacingAndGlyphs">05/10</text>
<text x="1147.6" y="474.6" font-size="8.2" fill="#555" text-anchor="end" transform="rotate(-90 1147.6 474.6)" textLength="20.6" lengthAdjust="spacingAndGlyphs">00:00</text>
<path d="M1194.3 468.2V471.4" stroke="#2a2a2a"/>
<text x="1191.6" y="474.6" font-size="8.2" fill="#555" text-anchor="end" transform="rotate(-90 1191.6 474.6)" textLength="20.6" lengthAdjust="spacingAndGlyphs">05/10</text>
<text x="1204.7" y="474.6" font-size="8.2" fill="#555" text-anchor="end" transform="rotate(-90 1204.7 474.6)" textLength="20.6" lengthAdjust="spacingAndGlyphs">12:00</text>
<path d="M1003.6 513.3H1231.6" stroke="#dedede" stroke-width="1.2"/>
<path d="M1012.5 512.7V582.5" stroke="#dedede" stroke-width="1.2"/>
<path d="M1027.7 512.7V582.5" stroke="#dedede" stroke-width="1.2"/>
<path d="M1042.9 512.7V582.5" stroke="#dedede" stroke-width="1.2"/>
<path d="M1058.2 512.7V582.5" stroke="#dedede" stroke-width="1.2"/>
<path d="M1073.4 512.7V582.5" stroke="#dedede" stroke-width="1.2"/>
<path d="M1088.6 512.7V582.5" stroke="#dedede" stroke-width="1.2"/>
<path d="M1103.8 512.7V582.5" stroke="#dedede" stroke-width="1.2"/>
<path d="M1119.0 512.7V582.5" stroke="#dedede" stroke-width="1.2"/>
<path d="M1134.3 512.7V582.5" stroke="#dedede" stroke-width="1.2"/>
<path d="M1149.5 512.7V582.5" stroke="#dedede" stroke-width="1.2"/>
<path d="M1164.7 512.7V582.5" stroke="#dedede" stroke-width="1.2"/>
<path d="M1179.9 512.7V582.5" stroke="#dedede" stroke-width="1.2"/>
<path d="M1195.1 512.7V582.5" stroke="#dedede" stroke-width="1.2"/>
<path d="M1210.4 512.7V582.5" stroke="#dedede" stroke-width="1.2"/>
<path d="M1225.6 512.7V582.5" stroke="#dedede" stroke-width="1.2"/>
<path d="M1003.6 578.4H1231.6" stroke="#dedede" stroke-width="1.2"/>
<path d="M999.8 578.4H1003.6" stroke="#8a8a8a" stroke-width="1"/>
<text x="994.7" y="581.3" font-size="8.2" fill="#555" text-anchor="end" textLength="10.4" lengthAdjust="spacingAndGlyphs">0,0</text>
<path d="M1003.6 565.9H1231.6" stroke="#dedede" stroke-width="1.2"/>
<path d="M999.8 565.9H1003.6" stroke="#8a8a8a" stroke-width="1"/>
<text x="994.7" y="568.8" font-size="8.2" fill="#555" text-anchor="end" textLength="15.3" lengthAdjust="spacingAndGlyphs">10,0</text>
<path d="M1003.6 553.5H1231.6" stroke="#dedede" stroke-width="1.2"/>
<path d="M999.8 553.5H1003.6" stroke="#8a8a8a" stroke-width="1"/>
<text x="994.7" y="556.4" font-size="8.2" fill="#555" text-anchor="end" textLength="15.3" lengthAdjust="spacingAndGlyphs">20,0</text>
<path d="M1003.6 541.0H1231.6" stroke="#dedede" stroke-width="1.2"/>
<path d="M999.8 541.0H1003.6" stroke="#8a8a8a" stroke-width="1"/>
<text x="994.7" y="543.9" font-size="8.2" fill="#555" text-anchor="end" textLength="15.3" lengthAdjust="spacingAndGlyphs">30,0</text>
<path d="M1003.6 528.6H1231.6" stroke="#dedede" stroke-width="1.2"/>
<path d="M999.8 528.6H1003.6" stroke="#8a8a8a" stroke-width="1"/>
<text x="994.7" y="531.5" font-size="8.2" fill="#555" text-anchor="end" textLength="15.3" lengthAdjust="spacingAndGlyphs">40,0</text>
<path d="M1231.6 578.4H1234.8" stroke="#e2001a" stroke-width="1"/>
<text x="1239.2" y="581.3" font-size="8.2" fill="#555" text-anchor="start" textLength="11.6" lengthAdjust="spacingAndGlyphs">0,0</text>
<path d="M1231.6 558.4H1234.8" stroke="#e2001a" stroke-width="1"/>
<text x="1239.2" y="561.3" font-size="8.2" fill="#555" text-anchor="start" textLength="11.6" lengthAdjust="spacingAndGlyphs">5,0</text>
<path d="M1231.6 538.5H1234.8" stroke="#e2001a" stroke-width="1"/>
<text x="1239.2" y="541.4" font-size="8.2" fill="#555" text-anchor="start" textLength="15.7" lengthAdjust="spacingAndGlyphs">10,0</text>
<path d="M1231.6 518.5H1234.8" stroke="#e2001a" stroke-width="1"/>
<text x="1239.2" y="521.4" font-size="8.2" fill="#555" text-anchor="start" textLength="15.7" lengthAdjust="spacingAndGlyphs">15,0</text>
<text x="973.0" y="548.0" font-size="8.5" fill="#555" text-anchor="middle" transform="rotate(-90 973.0 548.0)">%</text>
<text x="1271.0" y="547.6" font-size="8.5" fill="#555" text-anchor="middle" transform="rotate(-90 1271.0 547.6)">#</text>
<path d="M1003.6 578.4H1231.6" stroke="#55aca6" stroke-width="1.4"/>
<circle cx="1004.8" cy="578.4" r="2" fill="#55aca6"/>
<circle cx="1230.0" cy="578.4" r="2" fill="#55aca6"/>
<path d="M1004.1 562.4 L1004.9 563.0 L1005.7 562.9 L1006.5 563.3 L1007.3 560.3 L1008.1 543.1 L1008.9 544.6 L1009.7 561.1 L1010.5 562.9 L1011.3 562.6 L1012.1 563.3 L1012.9 563.0 L1013.7 563.3 L1014.5 559.6 L1015.3 560.3 L1016.1 546.1 L1016.9 561.3 L1017.7 562.1 L1018.5 561.8 L1019.3 563.1 L1020.1 563.1 L1020.9 562.8 L1021.7 562.4 L1022.5 560.7 L1023.3 547.3 L1024.1 547.3 L1024.9 562.1 L1025.7 562.0 L1026.5 563.0 L1027.3 562.8 L1028.1 563.6 L1028.9 563.6 L1029.7 559.6 L1030.5 559.6 L1031.3 548.8 L1032.1 560.9 L1032.9 562.1 L1033.7 562.1 L1034.5 562.7 L1035.3 562.8 L1036.1 562.8 L1036.9 563.2 L1037.7 560.3 L1038.5 547.1 L1039.3 548.1 L1040.1 562.2 L1040.9 562.4 L1041.7 562.1 L1042.5 563.3 L1043.3 563.6 L1044.1 563.6 L1044.9 560.2 L1045.7 560.5 L1046.5 548.0 L1047.3 561.0 L1048.1 561.6 L1048.9 561.8 L1049.7 563.2 L1050.5 563.6 L1051.3 562.5 L1052.1 563.5 L1052.9 560.0 L1053.7 544.8 L1054.5 548.2 L1055.3 560.8 L1056.1 562.3 L1056.9 562.0 L1057.7 563.1 L1058.5 562.7 L1059.3 563.6 L1060.1 560.8 L1060.9 560.2 L1061.7 544.9 L1062.5 560.3 L1063.3 562.0 L1064.1 561.7 L1064.9 562.3 L1065.7 562.8 L1066.5 563.2 L1067.3 562.6 L1068.1 559.5 L1068.9 544.9 L1069.7 548.4 L1070.5 561.3 L1071.3 562.1 L1072.1 562.6 L1072.9 563.0 L1073.7 563.1 L1074.5 563.2 L1075.3 560.3 L1076.1 560.8 L1076.9 545.6 L1077.7 561.2 L1078.5 561.5 L1079.3 562.1 L1080.1 563.4 L1080.9 562.9 L1081.7 563.1 L1082.5 562.4 L1083.3 560.0 L1084.1 543.1 L1084.9 546.8 L1085.7 560.8 L1086.5 562.3 L1087.3 562.5 L1088.1 563.1 L1088.9 562.8 L1089.7 563.4 L1090.5 560.5 L1091.3 559.5 L1092.1 547.1 L1092.9 561.5 L1093.7 561.5 L1094.5 562.3 L1095.3 562.8 L1096.1 562.7 L1096.9 562.8 L1097.7 562.8 L1098.5 560.0 L1099.3 544.8 L1100.1 547.6 L1100.9 559.5 L1101.7 561.0 L1102.5 561.7 L1103.3 561.4 L1104.1 561.4 L1104.9 562.3 L1105.7 558.6 L1106.5 558.5 L1107.3 547.2 L1108.1 559.1 L1108.9 560.3 L1109.7 560.9 L1110.5 562.0 L1111.3 561.6 L1112.1 562.3 L1112.9 561.4 L1113.7 558.7 L1114.5 559.2 L1115.3 545.7 L1116.1 559.8 L1116.9 560.4 L1117.7 561.4 L1118.5 561.2 L1119.3 562.2 L1120.1 562.3 L1120.9 558.5 L1121.7 558.6 L1122.5 546.9 L1123.3 560.0 L1124.1 560.4 L1124.9 560.6 L1125.7 561.2 L1126.5 562.1 L1127.3 561.5 L1128.1 561.7 L1128.9 558.8 L1129.7 558.9 L1130.5 548.5 L1131.3 559.7 L1132.1 560.2 L1132.9 562.0 L1133.7 562.1 L1134.5 562.5 L1135.3 561.8 L1136.1 559.6 L1136.9 559.6 L1137.7 547.5 L1138.5 560.0 L1139.3 560.8 L1140.1 561.2 L1140.9 561.2 L1141.7 561.5 L1142.5 561.4 L1143.3 561.3 L1144.1 559.1 L1144.9 558.7 L1145.7 543.3 L1146.5 560.7 L1147.3 561.2 L1148.1 561.9 L1148.9 562.2 L1149.7 562.3 L1150.5 562.0 L1151.3 558.2 L1152.1 559.3 L1152.9 544.8 L1153.7 559.8 L1154.5 560.6 L1155.3 561.0 L1156.1 562.1 L1156.9 561.9 L1157.7 561.6 L1158.5 561.5 L1159.3 559.4 L1160.1 558.9 L1160.9 545.1 L1161.7 559.7 L1162.5 560.9 L1163.3 561.8 L1164.1 561.1 L1164.9 562.2 L1165.7 562.5 L1166.5 559.3 L1167.3 559.4 L1168.1 546.8 L1168.9 560.0 L1169.7 559.9 L1170.5 560.8 L1171.3 561.2 L1172.1 561.7 L1172.9 561.7 L1173.7 561.9 L1174.5 559.3 L1175.3 558.3 L1176.1 543.8 L1176.9 559.5 L1177.7 560.2 L1178.5 562.0 L1179.3 562.1 L1180.1 561.2 L1180.9 561.9 L1181.7 561.7 L1182.5 558.7 L1183.3 546.9 L1184.1 560.2 L1184.9 560.9 L1185.7 561.3 L1186.5 561.8 L1187.3 561.8 L1188.1 562.5 L1188.9 562.8 L1189.7 559.4 L1190.5 559.0 L1191.3 545.2 L1192.1 560.8 L1192.9 561.8 L1193.7 561.7 L1194.5 562.6 L1195.3 562.5 L1196.1 562.4 L1196.9 562.3 L1197.7 559.5 L1198.5 545.5 L1199.3 560.3 L1200.1 561.0 L1200.9 561.3 L1201.7 562.1 L1202.5 562.6 L1203.3 561.8 L1204.1 562.4 L1204.9 559.4 L1205.7 560.1 L1206.5 545.2 L1207.3 561.2 L1208.1 561.8 L1208.9 561.6 L1209.7 562.1 L1210.5 561.8 L1211.3 562.9 L1212.1 562.7 L1212.9 560.1 L1213.7 547.0 L1214.5 546.4 L1215.3 560.5 L1216.1 561.8 L1216.9 561.4 L1217.7 561.8 L1218.5 562.8 L1219.3 561.9 L1220.1 559.0 L1220.9 559.0 L1221.7 544.1 L1222.5 559.9 L1223.3 561.9 L1224.1 561.4 L1224.9 562.7 L1225.7 562.6 L1226.5 562.9 L1227.3 563.1 L1228.1 559.7 L1228.9 543.2 L1229.7 546.1 L1230.5 561.3" fill="none" stroke="#ee6aa7" stroke-width="1" stroke-linejoin="round" opacity="1"/>
<path d="M1077.9 560.0 L1078.5 521.1 L1079.1 560.0" fill="none" stroke="#ee6aa7" stroke-width="1.3" stroke-linejoin="round" opacity="1"/>
<circle cx="1078.5" cy="521.1" r="2.3" fill="#ee6aa7"/>
<path d="M1004.1 547.5 L1004.9 544.7 L1005.7 546.8 L1006.5 551.1 L1007.3 549.5 L1008.1 549.4 L1008.9 549.5 L1009.7 550.5 L1010.5 550.9 L1011.3 549.9 L1012.1 549.9 L1012.9 549.9 L1013.7 549.8 L1014.5 550.0 L1015.3 549.1 L1016.1 545.8 L1016.9 550.0 L1017.7 550.8 L1018.5 549.3 L1019.3 550.7 L1020.1 550.9 L1020.9 550.7 L1021.7 550.2 L1022.5 550.2 L1023.3 550.6 L1024.1 549.7 L1024.9 549.1 L1025.7 550.8 L1026.5 551.3 L1027.3 550.2 L1028.1 550.1 L1028.9 550.8 L1029.7 549.4 L1030.5 549.6 L1031.3 546.4 L1032.1 549.7 L1032.9 549.5 L1033.7 550.7 L1034.5 551.4 L1035.3 549.7 L1036.1 550.7 L1036.9 550.0 L1037.7 551.1 L1038.5 550.4 L1039.3 547.8 L1040.1 549.0 L1040.9 550.1 L1041.7 549.9 L1042.5 549.3 L1043.3 549.8 L1044.1 549.7 L1044.9 550.9 L1045.7 549.3 L1046.5 548.8 L1047.3 550.5 L1048.1 550.1 L1048.9 551.1 L1049.7 551.0 L1050.5 550.3 L1051.3 550.2 L1052.1 550.8 L1052.9 551.1 L1053.7 549.9 L1054.5 546.4 L1055.3 550.1 L1056.1 561.5 L1056.9 549.5 L1057.7 550.8 L1058.5 550.7 L1059.3 551.4 L1060.1 551.1 L1060.9 549.5 L1061.7 545.0 L1062.5 545.0 L1063.3 550.7 L1064.1 551.1 L1064.9 551.2 L1065.7 549.6 L1066.5 551.1 L1067.3 549.7 L1068.1 550.0 L1068.9 550.8 L1069.7 547.8 L1070.5 551.1 L1071.3 549.7 L1072.1 549.8 L1072.9 550.4 L1073.7 550.7 L1074.5 548.9 L1075.3 549.8 L1076.1 550.0 L1076.9 548.4 L1077.7 550.4 L1078.5 551.4 L1079.3 549.9 L1080.1 550.3 L1080.9 549.2 L1081.7 549.6 L1082.5 550.6 L1083.3 549.2 L1084.1 551.2 L1084.9 549.9 L1085.7 551.3 L1086.5 549.9 L1087.3 550.9 L1088.1 550.9 L1088.9 549.7 L1089.7 550.7 L1090.5 550.6 L1091.3 551.0 L1092.1 546.0 L1092.9 551.4 L1093.7 550.6 L1094.5 550.3 L1095.3 549.2 L1096.1 550.2 L1096.9 549.8 L1097.7 550.8 L1098.5 550.7 L1099.3 550.4 L1100.1 546.1 L1100.9 550.5 L1101.7 549.4 L1102.5 551.2 L1103.3 550.6 L1104.1 549.2 L1104.9 551.3 L1105.7 549.3 L1106.5 549.8 L1107.3 547.7 L1108.1 550.3 L1108.9 550.6 L1109.7 550.1 L1110.5 549.7 L1111.3 549.4 L1112.1 549.1 L1112.9 550.8 L1113.7 550.9 L1114.5 550.3 L1115.3 548.6 L1116.1 549.6 L1116.9 549.9 L1117.7 551.2 L1118.5 549.0 L1119.3 550.2 L1120.1 549.5 L1120.9 550.9 L1121.7 549.8 L1122.5 547.4 L1123.3 550.3 L1124.1 550.9 L1124.9 549.8 L1125.7 551.1 L1126.5 549.2 L1127.3 549.6 L1128.1 549.2 L1128.9 549.2 L1129.7 550.9 L1130.5 549.1 L1131.3 549.4 L1132.1 550.0 L1132.9 550.8 L1133.7 551.0 L1134.5 550.8 L1135.3 550.4 L1136.1 549.3 L1136.9 549.9 L1137.7 546.6 L1138.5 550.4 L1139.3 549.4 L1140.1 549.6 L1140.9 550.9 L1141.7 549.0 L1142.5 551.0 L1143.3 551.2 L1144.1 551.4 L1144.9 549.9 L1145.7 547.3 L1146.5 550.5 L1147.3 551.4 L1148.1 550.7 L1148.9 549.7 L1149.7 551.1 L1150.5 550.2 L1151.3 550.5 L1152.1 550.8 L1152.9 545.2 L1153.7 550.6 L1154.5 550.2 L1155.3 550.3 L1156.1 550.1 L1156.9 549.4 L1157.7 550.3 L1158.5 549.0 L1159.3 550.2 L1160.1 550.6 L1160.9 547.1 L1161.7 551.4 L1162.5 551.2 L1163.3 549.3 L1164.1 551.0 L1164.9 550.5 L1165.7 549.0 L1166.5 549.8 L1167.3 549.5 L1168.1 546.2 L1168.9 551.3 L1169.7 549.7 L1170.5 551.2 L1171.3 550.7 L1172.1 549.2 L1172.9 551.1 L1173.7 550.5 L1174.5 551.3 L1175.3 550.8 L1176.1 548.6 L1176.9 551.0 L1177.7 551.3 L1178.5 551.1 L1179.3 550.0 L1180.1 550.9 L1180.9 550.2 L1181.7 549.2 L1182.5 549.0 L1183.3 547.4 L1184.1 549.3 L1184.9 550.2 L1185.7 550.7 L1186.5 550.3 L1187.3 550.0 L1188.1 550.6 L1188.9 549.7 L1189.7 550.1 L1190.5 550.9 L1191.3 548.3 L1192.1 551.2 L1192.9 550.8 L1193.7 549.9 L1194.5 549.9 L1195.3 550.3 L1196.1 550.5 L1196.9 549.5 L1197.7 548.9 L1198.5 545.7 L1199.3 549.3 L1200.1 538.0 L1200.9 549.4 L1201.7 549.4 L1202.5 549.3 L1203.3 549.9 L1204.1 549.3 L1204.9 549.0 L1205.7 549.2 L1206.5 546.6 L1207.3 543.0 L1208.1 543.0 L1208.9 550.1 L1209.7 550.0 L1210.5 550.7 L1211.3 549.0 L1212.1 549.9 L1212.9 549.9 L1213.7 544.6 L1214.5 549.5 L1215.3 549.1 L1216.1 550.1 L1216.9 549.3 L1217.7 550.5 L1218.5 549.8 L1219.3 549.2 L1220.1 549.0 L1220.9 550.8 L1221.7 545.9 L1222.5 550.1 L1223.3 551.3 L1224.1 549.7 L1224.9 549.5 L1225.7 549.6 L1226.5 551.0 L1227.3 550.5 L1228.1 549.8 L1228.9 545.8 L1229.7 551.4 L1230.5 550.4" fill="none" stroke="#1b2b5e" stroke-width="1.15" stroke-linejoin="round" opacity="1"/>
<circle cx="1055.9" cy="561.5" r="2.1" fill="#1b2b5e"/>
<circle cx="1200.2" cy="537.9" r="2.2" fill="#1b2b5e"/>
<path d="M1003.6 538.5 L1006.0 538.5 L1006.6 531.5 L1007.2 538.5 L1013.6 538.5 L1014.2 531.5 L1014.8 538.5 L1021.2 538.5 L1021.8 531.5 L1022.4 538.5 L1028.8 538.5 L1029.4 531.5 L1030.0 538.5 L1036.4 538.5 L1037.0 531.5 L1037.6 538.5 L1044.0 538.5 L1044.6 531.0 L1045.2 538.5 L1051.7 538.5 L1052.3 530.0 L1052.9 538.5 L1059.3 538.5 L1059.9 531.5 L1060.5 538.5 L1066.9 538.5 L1067.5 530.5 L1068.1 538.5 L1074.5 538.5 L1075.1 531.5 L1075.7 538.5 L1082.1 538.5 L1082.7 531.0 L1083.3 538.5 L1089.7 538.5 L1090.3 530.0 L1090.9 538.5 L1097.3 538.5 L1097.9 530.5 L1098.5 538.5 L1104.9 538.5 L1105.5 531.0 L1106.1 538.5 L1112.5 538.5 L1113.1 530.5 L1113.7 538.5 L1120.1 538.5 L1120.7 530.5 L1121.3 538.5 L1127.8 538.5 L1128.4 530.5 L1129.0 538.5 L1135.4 538.5 L1136.0 530.5 L1136.6 538.5 L1143.0 538.5 L1143.6 531.5 L1144.2 538.5 L1150.6 538.5 L1151.2 530.5 L1151.8 538.5 L1158.2 538.5 L1158.8 530.5 L1159.4 538.5 L1165.8 538.5 L1166.4 530.0 L1167.0 538.5 L1173.4 538.5 L1174.0 530.5 L1174.6 538.5 L1181.4 538.5 L1181.6 534.5 L1181.0 534.5 L1181.6 527.5 L1182.2 534.5 L1188.6 534.5 L1189.2 526.5 L1189.8 534.5 L1196.2 534.5 L1196.8 527.0 L1197.4 534.5 L1203.9 534.5 L1204.5 526.5 L1205.1 534.5 L1211.5 534.5 L1212.1 527.5 L1212.7 534.5 L1219.1 534.5 L1219.7 526.0 L1220.3 534.5 L1226.7 534.5 L1227.3 526.5 L1227.9 534.5 L1231.0 534.5" fill="none" stroke="#e2001a" stroke-width="1.25" stroke-linejoin="round" opacity="1"/>
<path d="M1183.8 534.5 L1183.8 574.0" fill="none" stroke="#e2001a" stroke-width="1.15" stroke-linejoin="round" opacity="1"/>
<path d="M1191.5 534.5 L1191.5 574.0" fill="none" stroke="#e2001a" stroke-width="1.15" stroke-linejoin="round" opacity="1"/>
<path d="M1199.0 534.5 L1199.0 574.0" fill="none" stroke="#e2001a" stroke-width="1.15" stroke-linejoin="round" opacity="1"/>
<path d="M1206.8 534.5 L1206.8 574.0" fill="none" stroke="#e2001a" stroke-width="1.15" stroke-linejoin="round" opacity="1"/>
<path d="M1214.6 534.5 L1214.6 574.0" fill="none" stroke="#e2001a" stroke-width="1.15" stroke-linejoin="round" opacity="1"/>
<path d="M1222.3 534.5 L1222.3 574.0" fill="none" stroke="#e2001a" stroke-width="1.15" stroke-linejoin="round" opacity="1"/>
<path d="M1229.9 534.5 L1229.9 574.0" fill="none" stroke="#e2001a" stroke-width="1.15" stroke-linejoin="round" opacity="1"/>
<path d="M1055.9 532.5 L1055.9 574.4" fill="none" stroke="#e2001a" stroke-width="1.3" stroke-linejoin="round" opacity="1"/>
<circle cx="1055.9" cy="574.4" r="2.1" fill="#e2001a"/>
<circle cx="1182.2" cy="521.5" r="2.3" fill="#e2001a"/>
<path d="M1182.2 521.6 L1182.2 538.5" fill="none" stroke="#e2001a" stroke-width="1" stroke-linejoin="round" opacity="1"/>
<text x="1175.3" y="532.6" font-size="8.2" fill="#666" text-anchor="start" textLength="53.0" lengthAdjust="spacingAndGlyphs">Max: 32,16 %</text>
<text x="1031.8" y="572.1" font-size="8.2" fill="#666" text-anchor="start" textLength="50.2" lengthAdjust="spacingAndGlyphs">Min: 12,75 %</text>
<text x="1011.5" y="533.7" font-family="Liberation Sans, sans-serif" font-size="19.4" fill="#5a5a5a" textLength="64.2" lengthAdjust="spacingAndGlyphs">30 days</text>
<path d="M1003.6 512.7V583.1" stroke="#2a2a2a" stroke-width="1.4"/>
<path d="M1002.9 582.5H1231.6" stroke="#2a2a2a" stroke-width="1.4"/>
<path d="M1231.6 511.7V583.1" stroke="#e2001a" stroke-width="1.4"/>
<path d="M1012.5 582.5V585.7" stroke="#2a2a2a"/>
<text x="1016.1" y="589.3" font-size="8.2" fill="#555" text-anchor="end" transform="rotate(-90 1016.1 589.3)" textLength="42.5" lengthAdjust="spacingAndGlyphs">07/09/2023</text>
<path d="M1027.7 582.5V585.7" stroke="#2a2a2a"/>
<text x="1031.3" y="589.3" font-size="8.2" fill="#555" text-anchor="end" transform="rotate(-90 1031.3 589.3)" textLength="42.5" lengthAdjust="spacingAndGlyphs">09/09/2023</text>
<path d="M1042.9 582.5V585.7" stroke="#2a2a2a"/>
<text x="1046.5" y="589.3" font-size="8.2" fill="#555" text-anchor="end" transform="rotate(-90 1046.5 589.3)" textLength="42.5" lengthAdjust="spacingAndGlyphs">11/09/2023</text>
<path d="M1058.2 582.5V585.7" stroke="#2a2a2a"/>
<text x="1061.8" y="589.3" font-size="8.2" fill="#555" text-anchor="end" transform="rotate(-90 1061.8 589.3)" textLength="42.5" lengthAdjust="spacingAndGlyphs">13/09/2023</text>
<path d="M1073.4 582.5V585.7" stroke="#2a2a2a"/>
<text x="1077.0" y="589.3" font-size="8.2" fill="#555" text-anchor="end" transform="rotate(-90 1077.0 589.3)" textLength="42.5" lengthAdjust="spacingAndGlyphs">15/09/2023</text>
<path d="M1088.6 582.5V585.7" stroke="#2a2a2a"/>
<text x="1092.2" y="589.3" font-size="8.2" fill="#555" text-anchor="end" transform="rotate(-90 1092.2 589.3)" textLength="42.5" lengthAdjust="spacingAndGlyphs">17/09/2023</text>
<path d="M1103.8 582.5V585.7" stroke="#2a2a2a"/>
<text x="1107.4" y="589.3" font-size="8.2" fill="#555" text-anchor="end" transform="rotate(-90 1107.4 589.3)" textLength="42.5" lengthAdjust="spacingAndGlyphs">19/09/2023</text>
<path d="M1119.0 582.5V585.7" stroke="#2a2a2a"/>
<text x="1122.6" y="589.3" font-size="8.2" fill="#555" text-anchor="end" transform="rotate(-90 1122.6 589.3)" textLength="42.5" lengthAdjust="spacingAndGlyphs">21/09/2023</text>
<path d="M1134.3 582.5V585.7" stroke="#2a2a2a"/>
<text x="1137.9" y="589.3" font-size="8.2" fill="#555" text-anchor="end" transform="rotate(-90 1137.9 589.3)" textLength="42.5" lengthAdjust="spacingAndGlyphs">23/09/2023</text>
<path d="M1149.5 582.5V585.7" stroke="#2a2a2a"/>
<text x="1153.1" y="589.3" font-size="8.2" fill="#555" text-anchor="end" transform="rotate(-90 1153.1 589.3)" textLength="42.5" lengthAdjust="spacingAndGlyphs">25/09/2023</text>
<path d="M1164.7 582.5V585.7" stroke="#2a2a2a"/>
<text x="1168.3" y="589.3" font-size="8.2" fill="#555" text-anchor="end" transform="rotate(-90 1168.3 589.3)" textLength="42.5" lengthAdjust="spacingAndGlyphs">27/09/2023</text>
<path d="M1179.9 582.5V585.7" stroke="#2a2a2a"/>
<text x="1183.5" y="589.3" font-size="8.2" fill="#555" text-anchor="end" transform="rotate(-90 1183.5 589.3)" textLength="42.5" lengthAdjust="spacingAndGlyphs">29/09/2023</text>
<path d="M1195.1 582.5V585.7" stroke="#2a2a2a"/>
<text x="1198.7" y="589.3" font-size="8.2" fill="#555" text-anchor="end" transform="rotate(-90 1198.7 589.3)" textLength="42.5" lengthAdjust="spacingAndGlyphs">01/10/2023</text>
<path d="M1210.4 582.5V585.7" stroke="#2a2a2a"/>
<text x="1214.0" y="589.3" font-size="8.2" fill="#555" text-anchor="end" transform="rotate(-90 1214.0 589.3)" textLength="42.5" lengthAdjust="spacingAndGlyphs">03/10/2023</text>
<path d="M1225.6 582.5V585.7" stroke="#2a2a2a"/>
<text x="1229.2" y="589.3" font-size="8.2" fill="#555" text-anchor="end" transform="rotate(-90 1229.2 589.3)" textLength="42.5" lengthAdjust="spacingAndGlyphs">05/10/2023</text>
<path d="M1003.6 650.6H1231.6" stroke="#dedede" stroke-width="1.2"/>
<path d="M1019.4 650.0V718.2" stroke="#dedede" stroke-width="1.2"/>
<path d="M1038.4 650.0V718.2" stroke="#dedede" stroke-width="1.2"/>
<path d="M1057.5 650.0V718.2" stroke="#dedede" stroke-width="1.2"/>
<path d="M1077.5 650.0V718.2" stroke="#dedede" stroke-width="1.2"/>
<path d="M1094.6 650.0V718.2" stroke="#dedede" stroke-width="1.2"/>
<path d="M1114.6 650.0V718.2" stroke="#dedede" stroke-width="1.2"/>
<path d="M1133.7 650.0V718.2" stroke="#dedede" stroke-width="1.2"/>
<path d="M1152.8 650.0V718.2" stroke="#dedede" stroke-width="1.2"/>
<path d="M1172.1 650.0V718.2" stroke="#dedede" stroke-width="1.2"/>
<path d="M1191.3 650.0V718.2" stroke="#dedede" stroke-width="1.2"/>
<path d="M1210.4 650.0V718.2" stroke="#dedede" stroke-width="1.2"/>
<path d="M1229.4 650.0V718.2" stroke="#dedede" stroke-width="1.2"/>
<path d="M1003.6 714.8H1231.6" stroke="#dedede" stroke-width="1.2"/>
<path d="M999.8 714.8H1003.6" stroke="#8a8a8a" stroke-width="1"/>
<text x="994.7" y="717.7" font-size="8.2" fill="#555" text-anchor="end" textLength="10.4" lengthAdjust="spacingAndGlyphs">0,0</text>
<path d="M1003.6 699.8H1231.6" stroke="#dedede" stroke-width="1.2"/>
<path d="M999.8 699.8H1003.6" stroke="#8a8a8a" stroke-width="1"/>
<text x="994.7" y="702.6" font-size="8.2" fill="#555" text-anchor="end" textLength="15.3" lengthAdjust="spacingAndGlyphs">20,0</text>
<path d="M1003.6 684.7H1231.6" stroke="#dedede" stroke-width="1.2"/>
<path d="M999.8 684.7H1003.6" stroke="#8a8a8a" stroke-width="1"/>
<text x="994.7" y="687.6" font-size="8.2" fill="#555" text-anchor="end" textLength="15.3" lengthAdjust="spacingAndGlyphs">40,0</text>
<path d="M1003.6 669.6H1231.6" stroke="#dedede" stroke-width="1.2"/>
<path d="M999.8 669.6H1003.6" stroke="#8a8a8a" stroke-width="1"/>
<text x="994.7" y="672.5" font-size="8.2" fill="#555" text-anchor="end" textLength="15.3" lengthAdjust="spacingAndGlyphs">60,0</text>
<path d="M1003.6 654.6H1231.6" stroke="#dedede" stroke-width="1.2"/>
<path d="M999.8 654.6H1003.6" stroke="#8a8a8a" stroke-width="1"/>
<text x="994.7" y="657.5" font-size="8.2" fill="#555" text-anchor="end" textLength="15.3" lengthAdjust="spacingAndGlyphs">80,0</text>
<path d="M1231.6 714.8H1234.8" stroke="#e2001a" stroke-width="1"/>
<text x="1239.2" y="717.7" font-size="8.2" fill="#555" text-anchor="start" textLength="11.6" lengthAdjust="spacingAndGlyphs">0,0</text>
<path d="M1231.6 691.9H1234.8" stroke="#e2001a" stroke-width="1"/>
<text x="1239.2" y="694.8" font-size="8.2" fill="#555" text-anchor="start" textLength="11.6" lengthAdjust="spacingAndGlyphs">5,0</text>
<path d="M1231.6 669.1H1234.8" stroke="#e2001a" stroke-width="1"/>
<text x="1239.2" y="672.0" font-size="8.2" fill="#555" text-anchor="start" textLength="15.7" lengthAdjust="spacingAndGlyphs">10,0</text>
<text x="973.0" y="684.4" font-size="8.5" fill="#555" text-anchor="middle" transform="rotate(-90 973.0 684.4)">%</text>
<text x="1270.8" y="684.0" font-size="8.5" fill="#555" text-anchor="middle" transform="rotate(-90 1270.8 684.0)">#</text>
<path d="M1188.0 714.9H1231.6" stroke="#55aca6" stroke-width="1.4"/>
<circle cx="1188.4" cy="714.9" r="2" fill="#55aca6"/>
<circle cx="1230.0" cy="714.9" r="2" fill="#55aca6"/>
<path d="M1188.0 699.4 L1188.6 690.0 L1189.4 674.0 L1190.4 670.9 L1191.5 675.3 L1192.6 670.3 L1193.7 673.7 L1194.8 670.0 L1195.9 671.0 L1197.0 675.5 L1198.1 670.8 L1199.2 673.4 L1200.3 672.3 L1201.4 672.2 L1202.5 672.5 L1203.6 670.7 L1204.7 674.5 L1205.8 670.0 L1206.9 670.9 L1208.0 669.6 L1209.1 671.1 L1210.2 671.9 L1211.3 674.9 L1212.4 671.8 L1213.5 670.2 L1214.6 671.1 L1215.7 675.4 L1216.8 669.9 L1217.9 673.2 L1219.0 671.8 L1220.1 675.2 L1221.2 675.5 L1222.3 676.1 L1223.4 674.9 L1224.5 676.2 L1225.6 675.0 L1226.7 675.6 L1227.8 676.1 L1228.9 675.3 L1230.0 674.9 L1231.1 674.9" fill="none" stroke="#1b2b5e" stroke-width="1.2" stroke-linejoin="round" opacity="1"/>
<circle cx="1188.0" cy="699.4" r="2.1" fill="#1b2b5e"/>
<path d="M1190.0 667.5 L1191.2 667.6 L1192.4 669.6 L1193.6 668.7 L1194.8 666.0 L1196.0 663.6 L1197.2 663.2 L1198.4 666.2 L1199.6 666.1 L1200.8 662.6 L1202.0 669.2 L1203.2 666.1 L1204.4 667.6 L1205.6 663.8 L1206.8 664.0 L1208.0 662.1 L1209.2 664.7 L1210.4 664.1 L1211.6 665.4 L1212.8 665.0 L1214.0 668.7 L1215.2 669.1 L1216.4 663.4 L1217.6 665.2 L1218.8 663.3 L1220.0 665.3 L1221.2 663.9 L1222.4 658.6 L1223.6 660.9 L1224.8 661.5 L1226.0 661.4 L1227.2 661.4 L1228.4 660.5 L1229.6 659.1 L1230.8 662.1" fill="none" stroke="#ee6aa7" stroke-width="1.3" stroke-linejoin="round" opacity="1"/>
<path d="M1003.6 714.8 L1187.4 714.8 L1188.4 692.0 L1189.4 673.0 L1190.4 666.9 L1191.6 682.0 L1192.7 669.7 L1193.9 671.8 L1195.0 664.5 L1196.2 664.1 L1197.3 681.3 L1198.5 683.5 L1199.6 666.8 L1200.8 671.7 L1201.9 664.0 L1203.1 670.7 L1204.2 665.7 L1205.4 671.0 L1206.5 664.3 L1207.7 671.7 L1208.8 670.1 L1210.0 671.9 L1211.1 668.6 L1212.3 665.4 L1213.4 671.8 L1214.6 667.5 L1215.7 664.7 L1216.9 668.8 L1218.0 668.0 L1219.2 667.8 L1220.3 659.9 L1221.5 662.2 L1222.6 662.1 L1223.8 664.0 L1224.9 661.8 L1226.1 660.6 L1227.2 662.1 L1228.4 664.1 L1229.5 663.3 L1230.7 661.5 L1231.0 666.0" fill="none" stroke="#e2001a" stroke-width="1.3" stroke-linejoin="round" opacity="1"/>
<circle cx="1005.1" cy="714.8" r="2" fill="#e2001a"/>
<circle cx="1187.4" cy="714.8" r="1.9" fill="#e2001a"/>
<text x="1179.6" y="662.5" font-size="8.2" fill="#666" text-anchor="start" textLength="52.3" lengthAdjust="spacingAndGlyphs">Max: 63,15 %</text>
<text x="1164.5" y="709.6" font-size="8.2" fill="#666" text-anchor="start" textLength="50.7" lengthAdjust="spacingAndGlyphs">Min: 19,85 %</text>
<text x="1011.5" y="670.6" font-family="Liberation Sans, sans-serif" font-size="19.4" fill="#5a5a5a" textLength="75.2" lengthAdjust="spacingAndGlyphs">365 days</text>
<path d="M1003.6 650.0V718.8" stroke="#2a2a2a" stroke-width="1.4"/>
<path d="M1002.9 718.2H1231.6" stroke="#2a2a2a" stroke-width="1.4"/>
<path d="M1231.6 649.0V718.8" stroke="#e2001a" stroke-width="1.4"/>
<path d="M1019.4 718.2V721.4" stroke="#2a2a2a"/>
<text x="1022.7" y="725.7" font-size="8.2" fill="#555" text-anchor="end" transform="rotate(-90 1022.7 725.7)" textLength="43.3" lengthAdjust="spacingAndGlyphs">31/10/2022</text>
<path d="M1038.4 718.2V721.4" stroke="#2a2a2a"/>
<text x="1041.7" y="725.7" font-size="8.2" fill="#555" text-anchor="end" transform="rotate(-90 1041.7 725.7)" textLength="43.3" lengthAdjust="spacingAndGlyphs">30/11/2022</text>
<path d="M1057.5 718.2V721.4" stroke="#2a2a2a"/>
<text x="1060.8" y="725.7" font-size="8.2" fill="#555" text-anchor="end" transform="rotate(-90 1060.8 725.7)" textLength="43.3" lengthAdjust="spacingAndGlyphs">31/12/2022</text>
<path d="M1077.5 718.2V721.4" stroke="#2a2a2a"/>
<text x="1080.8" y="725.7" font-size="8.2" fill="#555" text-anchor="end" transform="rotate(-90 1080.8 725.7)" textLength="43.3" lengthAdjust="spacingAndGlyphs">31/01/2023</text>
<path d="M1094.6 718.2V721.4" stroke="#2a2a2a"/>
<text x="1097.9" y="725.7" font-size="8.2" fill="#555" text-anchor="end" transform="rotate(-90 1097.9 725.7)" textLength="43.3" lengthAdjust="spacingAndGlyphs">28/02/2023</text>
<path d="M1114.6 718.2V721.4" stroke="#2a2a2a"/>
<text x="1117.9" y="725.7" font-size="8.2" fill="#555" text-anchor="end" transform="rotate(-90 1117.9 725.7)" textLength="43.3" lengthAdjust="spacingAndGlyphs">02/04/2023</text>
<path d="M1133.7 718.2V721.4" stroke="#2a2a2a"/>
<text x="1137.0" y="725.7" font-size="8.2" fill="#555" text-anchor="end" transform="rotate(-90 1137.0 725.7)" textLength="43.3" lengthAdjust="spacingAndGlyphs">02/05/2023</text>
<path d="M1152.8 718.2V721.4" stroke="#2a2a2a"/>
<text x="1156.1" y="725.7" font-size="8.2" fill="#555" text-anchor="end" transform="rotate(-90 1156.1 725.7)" textLength="43.3" lengthAdjust="spacingAndGlyphs">02/06/2023</text>
<path d="M1172.1 718.2V721.4" stroke="#2a2a2a"/>
<text x="1175.4" y="725.7" font-size="8.2" fill="#555" text-anchor="end" transform="rotate(-90 1175.4 725.7)" textLength="43.3" lengthAdjust="spacingAndGlyphs">02/07/2023</text>
<path d="M1191.3 718.2V721.4" stroke="#2a2a2a"/>
<text x="1194.6" y="725.7" font-size="8.2" fill="#555" text-anchor="end" transform="rotate(-90 1194.6 725.7)" textLength="43.3" lengthAdjust="spacingAndGlyphs">02/08/2023</text>
<path d="M1210.4 718.2V721.4" stroke="#2a2a2a"/>
<text x="1213.7" y="725.7" font-size="8.2" fill="#555" text-anchor="end" transform="rotate(-90 1213.7 725.7)" textLength="43.3" lengthAdjust="spacingAndGlyphs">02/09/2023</text>
<path d="M1229.4 718.2V721.4" stroke="#2a2a2a"/>
<text x="1232.7" y="725.7" font-size="8.2" fill="#555" text-anchor="end" transform="rotate(-90 1232.7 725.7)" textLength="43.3" lengthAdjust="spacingAndGlyphs">02/10/2023</text>
</svg>
<div class="abs" style="left:992px;top:795.3px;width:10px;height:10px;background:#e2001a"></div>
<div class="abs" style="white-space:nowrap;left:1005.8px;top:794.64px;font-size:12px;line-height:17px;letter-spacing:-0.056px;color:#444;">Alarms</div>
<div class="abs" style="white-space:nowrap;left:1086.3px;top:794.64px;font-size:12px;line-height:17px;letter-spacing:0.211px;color:#a9a9a9;">(#)</div>
<div class="abs" style="left:992px;top:809.3px;width:111px;height:1px;background:#ececec"></div>
<div class="abs" style="left:1114.3px;top:795.3px;width:10px;height:10px;background:#1b2b5e"></div>
<div class="abs" style="white-space:nowrap;left:1128.1px;top:794.64px;font-size:12px;line-height:17px;letter-spacing:-0.4px;color:#444;">Response Ti...</div>
<div class="abs" style="white-space:nowrap;left:1207.3px;top:794.64px;font-size:12px;line-height:17px;letter-spacing:-0.954px;color:#a9a9a9;">(%)</div>
<div class="abs" style="left:1114.3px;top:809.3px;width:111px;height:1px;background:#ececec"></div>
<div class="abs" style="left:992px;top:818.6px;width:10px;height:10px;background:#3a9b96"></div>
<div class="abs" style="white-space:nowrap;left:1005.8px;top:817.94px;font-size:12px;line-height:17px;letter-spacing:-0.512px;color:#444;">CPU Load Ind...</div>
<div class="abs" style="white-space:nowrap;left:1084.9px;top:817.94px;font-size:12px;line-height:17px;letter-spacing:-0.721px;color:#a9a9a9;">(%)</div>
<div class="abs" style="left:992px;top:832.6px;width:111px;height:1px;background:#ececec"></div>
<div class="abs" style="left:1114.3px;top:818.6px;width:10px;height:10px;background:#ee6aa7"></div>
<div class="abs" style="white-space:nowrap;left:1128.1px;top:817.94px;font-size:12px;line-height:17px;letter-spacing:-0.159px;color:#444;">Traffic Index</div>
<div class="abs" style="white-space:nowrap;left:1207.3px;top:817.94px;font-size:12px;line-height:17px;letter-spacing:-0.954px;color:#a9a9a9;">(%)</div>
<div class="abs" style="left:1114.3px;top:832.6px;width:111px;height:1px;background:#ececec"></div>
</body></html>
